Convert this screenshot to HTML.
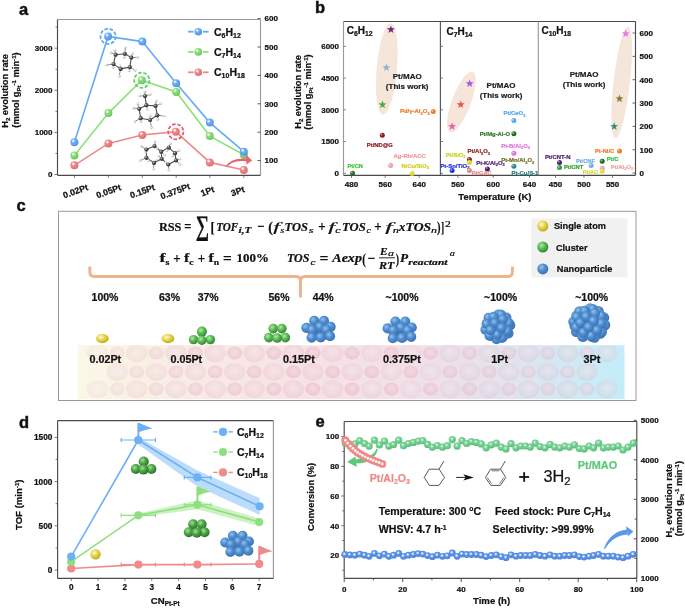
<!DOCTYPE html>
<html><head><meta charset="utf-8"><title>Figure</title>
<style>html,body{margin:0;padding:0;background:#fff;}svg{display:block;will-change:transform;}</style></head>
<body><svg width="685" height="608" viewBox="0 0 685 608">
<defs><radialGradient id="gC" cx="0.38" cy="0.35" r="0.7"><stop offset="0" stop-color="#c8c8c8"/><stop offset="0.45" stop-color="#505050"/><stop offset="1" stop-color="#1c1c1c"/></radialGradient><radialGradient id="gH" cx="0.38" cy="0.35" r="0.7"><stop offset="0" stop-color="#ffffff"/><stop offset="0.45" stop-color="#dedede"/><stop offset="1" stop-color="#9a9a9a"/></radialGradient><radialGradient id="gB" cx="0.36" cy="0.33" r="0.72"><stop offset="0" stop-color="#ffffff"/><stop offset="0.14" stop-color="#cfe6ff"/><stop offset="0.32" stop-color="#70b0f6"/><stop offset="1" stop-color="#4e92e2"/></radialGradient><radialGradient id="gG" cx="0.36" cy="0.33" r="0.72"><stop offset="0" stop-color="#ffffff"/><stop offset="0.14" stop-color="#d8f8d0"/><stop offset="0.32" stop-color="#90e07e"/><stop offset="1" stop-color="#66c458"/></radialGradient><radialGradient id="gR" cx="0.36" cy="0.33" r="0.72"><stop offset="0" stop-color="#ffffff"/><stop offset="0.14" stop-color="#ffe0e0"/><stop offset="0.32" stop-color="#ee8c8c"/><stop offset="1" stop-color="#da6c6c"/></radialGradient><radialGradient id="gY" cx="0.38" cy="0.35" r="0.7"><stop offset="0" stop-color="#fffbd8"/><stop offset="0.45" stop-color="#e6d648"/><stop offset="1" stop-color="#bba520"/></radialGradient><radialGradient id="gCG" cx="0.38" cy="0.35" r="0.7"><stop offset="0" stop-color="#b0eca0"/><stop offset="0.45" stop-color="#5cbc58"/><stop offset="1" stop-color="#2e7e2c"/></radialGradient><radialGradient id="gCGd" cx="0.38" cy="0.35" r="0.7"><stop offset="0" stop-color="#a4e094"/><stop offset="0.45" stop-color="#4ea64a"/><stop offset="1" stop-color="#266c24"/></radialGradient><radialGradient id="gCB" cx="0.38" cy="0.35" r="0.7"><stop offset="0" stop-color="#92c2ee"/><stop offset="0.45" stop-color="#4f8ed0"/><stop offset="1" stop-color="#3a6eb2"/></radialGradient></defs>
<text x="19.00" y="14.50" font-size="16.5" font-weight="bold" text-anchor="start" fill="#111" font-family="'Liberation Sans',sans-serif" stroke="#111" stroke-width="0.45">a</text>
<text x="315.00" y="13.00" font-size="16.5" font-weight="bold" text-anchor="start" fill="#111" font-family="'Liberation Sans',sans-serif" stroke="#111" stroke-width="0.45">b</text>
<text x="16.50" y="210.50" font-size="16.5" font-weight="bold" text-anchor="start" fill="#111" font-family="'Liberation Sans',sans-serif" stroke="#111" stroke-width="0.45">c</text>
<text x="19.00" y="428.00" font-size="16.5" font-weight="bold" text-anchor="start" fill="#111" font-family="'Liberation Sans',sans-serif" stroke="#111" stroke-width="0.45">d</text>
<text x="315.50" y="426.50" font-size="16.5" font-weight="bold" text-anchor="start" fill="#111" font-family="'Liberation Sans',sans-serif" stroke="#111" stroke-width="0.45">e</text>
<line x1="57.50" y1="19.50" x2="260.50" y2="19.50" stroke="#9a9a9a" stroke-width="1.15" />
<line x1="260.50" y1="19.50" x2="260.50" y2="175.30" stroke="#9a9a9a" stroke-width="1.15" />
<line x1="57.50" y1="19.50" x2="57.50" y2="175.30" stroke="#4a4a4a" stroke-width="1.15" />
<line x1="57.50" y1="175.30" x2="260.50" y2="175.30" stroke="#4a4a4a" stroke-width="1.15" />
<line x1="57.50" y1="174.50" x2="54.50" y2="174.50" stroke="#555" stroke-width="0.8" />
<text x="52.50" y="177.30" font-size="8" font-weight="bold" text-anchor="end" fill="#111" font-family="'Liberation Sans',sans-serif"  stroke="#111" stroke-width="0.22">0</text>
<line x1="57.50" y1="153.45" x2="55.50" y2="153.45" stroke="#555" stroke-width="0.8" />
<line x1="57.50" y1="132.40" x2="54.50" y2="132.40" stroke="#555" stroke-width="0.8" />
<text x="52.50" y="135.20" font-size="8" font-weight="bold" text-anchor="end" fill="#111" font-family="'Liberation Sans',sans-serif"  stroke="#111" stroke-width="0.22">1000</text>
<line x1="57.50" y1="111.35" x2="55.50" y2="111.35" stroke="#555" stroke-width="0.8" />
<line x1="57.50" y1="90.30" x2="54.50" y2="90.30" stroke="#555" stroke-width="0.8" />
<text x="52.50" y="93.10" font-size="8" font-weight="bold" text-anchor="end" fill="#111" font-family="'Liberation Sans',sans-serif"  stroke="#111" stroke-width="0.22">2000</text>
<line x1="57.50" y1="69.25" x2="55.50" y2="69.25" stroke="#555" stroke-width="0.8" />
<line x1="57.50" y1="48.20" x2="54.50" y2="48.20" stroke="#555" stroke-width="0.8" />
<text x="52.50" y="51.00" font-size="8" font-weight="bold" text-anchor="end" fill="#111" font-family="'Liberation Sans',sans-serif"  stroke="#111" stroke-width="0.22">3000</text>
<line x1="57.50" y1="27.15" x2="55.50" y2="27.15" stroke="#555" stroke-width="0.8" />
<line x1="260.50" y1="160.60" x2="257.50" y2="160.60" stroke="#444" stroke-width="0.9" />
<text x="264.50" y="163.40" font-size="8" font-weight="bold" text-anchor="start" fill="#111" font-family="'Liberation Sans',sans-serif"  stroke="#111" stroke-width="0.22">100</text>
<line x1="260.50" y1="132.20" x2="257.50" y2="132.20" stroke="#444" stroke-width="0.9" />
<text x="264.50" y="135.00" font-size="8" font-weight="bold" text-anchor="start" fill="#111" font-family="'Liberation Sans',sans-serif"  stroke="#111" stroke-width="0.22">200</text>
<line x1="260.50" y1="103.80" x2="257.50" y2="103.80" stroke="#444" stroke-width="0.9" />
<text x="264.50" y="106.60" font-size="8" font-weight="bold" text-anchor="start" fill="#111" font-family="'Liberation Sans',sans-serif"  stroke="#111" stroke-width="0.22">300</text>
<line x1="260.50" y1="75.40" x2="257.50" y2="75.40" stroke="#444" stroke-width="0.9" />
<text x="264.50" y="78.20" font-size="8" font-weight="bold" text-anchor="start" fill="#111" font-family="'Liberation Sans',sans-serif"  stroke="#111" stroke-width="0.22">400</text>
<line x1="260.50" y1="47.00" x2="257.50" y2="47.00" stroke="#444" stroke-width="0.9" />
<text x="264.50" y="49.80" font-size="8" font-weight="bold" text-anchor="start" fill="#111" font-family="'Liberation Sans',sans-serif"  stroke="#111" stroke-width="0.22">500</text>
<line x1="260.50" y1="18.60" x2="257.50" y2="18.60" stroke="#444" stroke-width="0.9" />
<text x="264.50" y="21.40" font-size="8" font-weight="bold" text-anchor="start" fill="#111" font-family="'Liberation Sans',sans-serif"  stroke="#111" stroke-width="0.22">600</text>
<line x1="74.40" y1="175.30" x2="74.40" y2="177.80" stroke="#555" stroke-width="0.8" />
<line x1="108.30" y1="175.30" x2="108.30" y2="177.80" stroke="#555" stroke-width="0.8" />
<line x1="142.30" y1="175.30" x2="142.30" y2="177.80" stroke="#555" stroke-width="0.8" />
<line x1="176.20" y1="175.30" x2="176.20" y2="177.80" stroke="#555" stroke-width="0.8" />
<line x1="209.80" y1="175.30" x2="209.80" y2="177.80" stroke="#555" stroke-width="0.8" />
<line x1="243.80" y1="175.30" x2="243.80" y2="177.80" stroke="#555" stroke-width="0.8" />
<text transform="translate(75.5,191.3) rotate(-20)" x="0" y="3" font-size="8.8" font-weight="bold" text-anchor="middle" fill="#111" font-family="'Liberation Sans',sans-serif" stroke="#111" stroke-width="0.22">0.02Pt</text>
<text transform="translate(108.6,191.3) rotate(-20)" x="0" y="3" font-size="8.8" font-weight="bold" text-anchor="middle" fill="#111" font-family="'Liberation Sans',sans-serif" stroke="#111" stroke-width="0.22">0.05Pt</text>
<text transform="translate(142.4,191.3) rotate(-20)" x="0" y="3" font-size="8.8" font-weight="bold" text-anchor="middle" fill="#111" font-family="'Liberation Sans',sans-serif" stroke="#111" stroke-width="0.22">0.15Pt</text>
<text transform="translate(175.3,191.3) rotate(-20)" x="0" y="3" font-size="8.8" font-weight="bold" text-anchor="middle" fill="#111" font-family="'Liberation Sans',sans-serif" stroke="#111" stroke-width="0.22">0.375Pt</text>
<text transform="translate(207.5,191.3) rotate(-20)" x="0" y="3" font-size="8.8" font-weight="bold" text-anchor="middle" fill="#111" font-family="'Liberation Sans',sans-serif" stroke="#111" stroke-width="0.22">1Pt</text>
<text transform="translate(237.7,191.3) rotate(-20)" x="0" y="3" font-size="8.8" font-weight="bold" text-anchor="middle" fill="#111" font-family="'Liberation Sans',sans-serif" stroke="#111" stroke-width="0.22">3Pt</text>
<text transform="translate(7.7,91) rotate(-90)" x="0" y="0" font-size="9.3" font-weight="bold" text-anchor="middle" fill="#111" font-family="'Liberation Sans',sans-serif" stroke="#111" stroke-width="0.22">H<tspan font-size="6.1" dy="2">2</tspan><tspan dy="-2"> evolution rate</tspan></text>
<text transform="translate(18.7,90) rotate(-90)" x="0" y="0" font-size="9.3" font-weight="bold" text-anchor="middle" fill="#111" font-family="'Liberation Sans',sans-serif" stroke="#111" stroke-width="0.22">(mmol g<tspan font-size="6.1" dy="2">Pt</tspan><tspan font-size="6.1" dy="-5">-1</tspan><tspan dy="3"> min</tspan><tspan font-size="6.1" dy="-3">-1</tspan><tspan dy="3">)</tspan></text>
<line x1="115.60" y1="54.70" x2="124.80" y2="53.80" stroke="#505050" stroke-width="1.1" />
<line x1="124.80" y1="53.80" x2="131.30" y2="57.60" stroke="#505050" stroke-width="1.1" />
<line x1="131.30" y1="57.60" x2="129.80" y2="67.10" stroke="#505050" stroke-width="1.1" />
<line x1="129.80" y1="67.10" x2="120.60" y2="68.90" stroke="#505050" stroke-width="1.1" />
<line x1="120.60" y1="68.90" x2="113.50" y2="64.10" stroke="#505050" stroke-width="1.1" />
<line x1="113.50" y1="64.10" x2="115.60" y2="54.70" stroke="#505050" stroke-width="1.1" />
<line x1="115.60" y1="54.70" x2="110.90" y2="52.60" stroke="#777" stroke-width="0.8" />
<line x1="115.60" y1="54.70" x2="114.70" y2="50.30" stroke="#777" stroke-width="0.8" />
<line x1="124.80" y1="53.80" x2="125.40" y2="47.60" stroke="#777" stroke-width="0.8" />
<line x1="124.80" y1="53.80" x2="124.20" y2="57.20" stroke="#777" stroke-width="0.8" />
<line x1="131.30" y1="57.60" x2="132.40" y2="53.60" stroke="#777" stroke-width="0.8" />
<line x1="131.30" y1="57.60" x2="137.50" y2="57.30" stroke="#777" stroke-width="0.8" />
<line x1="129.80" y1="67.10" x2="135.10" y2="70.30" stroke="#777" stroke-width="0.8" />
<line x1="129.80" y1="67.10" x2="129.20" y2="70.80" stroke="#777" stroke-width="0.8" />
<line x1="120.60" y1="68.90" x2="119.20" y2="76.20" stroke="#777" stroke-width="0.8" />
<line x1="120.60" y1="68.90" x2="119.80" y2="65.90" stroke="#777" stroke-width="0.8" />
<line x1="113.50" y1="64.10" x2="106.40" y2="65.00" stroke="#777" stroke-width="0.8" />
<line x1="113.50" y1="64.10" x2="113.20" y2="67.60" stroke="#777" stroke-width="0.8" />
<circle cx="110.9" cy="52.6" r="1.35" fill="url(#gH)"/>
<circle cx="114.7" cy="50.3" r="1.35" fill="url(#gH)"/>
<circle cx="125.4" cy="47.6" r="1.35" fill="url(#gH)"/>
<circle cx="124.2" cy="57.2" r="1.35" fill="url(#gH)"/>
<circle cx="132.4" cy="53.6" r="1.35" fill="url(#gH)"/>
<circle cx="137.5" cy="57.3" r="1.35" fill="url(#gH)"/>
<circle cx="135.1" cy="70.3" r="1.35" fill="url(#gH)"/>
<circle cx="129.2" cy="70.8" r="1.35" fill="url(#gH)"/>
<circle cx="119.2" cy="76.2" r="1.35" fill="url(#gH)"/>
<circle cx="119.8" cy="65.9" r="1.35" fill="url(#gH)"/>
<circle cx="106.4" cy="65.0" r="1.35" fill="url(#gH)"/>
<circle cx="113.2" cy="67.6" r="1.35" fill="url(#gH)"/>
<circle cx="115.6" cy="54.7" r="2.1" fill="url(#gC)"/>
<circle cx="124.8" cy="53.8" r="2.1" fill="url(#gC)"/>
<circle cx="131.3" cy="57.6" r="2.1" fill="url(#gC)"/>
<circle cx="129.8" cy="67.1" r="2.1" fill="url(#gC)"/>
<circle cx="120.6" cy="68.9" r="2.1" fill="url(#gC)"/>
<circle cx="113.5" cy="64.1" r="2.1" fill="url(#gC)"/>
<line x1="146.40" y1="105.20" x2="155.50" y2="105.90" stroke="#505050" stroke-width="1.1" />
<line x1="155.50" y1="105.90" x2="157.30" y2="115.30" stroke="#505050" stroke-width="1.1" />
<line x1="157.30" y1="115.30" x2="150.10" y2="120.00" stroke="#505050" stroke-width="1.1" />
<line x1="150.10" y1="120.00" x2="140.70" y2="118.20" stroke="#505050" stroke-width="1.1" />
<line x1="140.70" y1="118.20" x2="139.20" y2="108.80" stroke="#505050" stroke-width="1.1" />
<line x1="139.20" y1="108.80" x2="146.40" y2="105.20" stroke="#505050" stroke-width="1.1" />
<line x1="146.40" y1="105.20" x2="145.00" y2="96.10" stroke="#505050" stroke-width="1.1" />
<line x1="145.00" y1="96.10" x2="145.00" y2="91.40" stroke="#777" stroke-width="0.8" />
<line x1="145.00" y1="96.10" x2="139.60" y2="95.80" stroke="#777" stroke-width="0.8" />
<line x1="145.00" y1="96.10" x2="150.10" y2="94.50" stroke="#777" stroke-width="0.8" />
<line x1="146.40" y1="105.20" x2="147.00" y2="109.10" stroke="#777" stroke-width="0.8" />
<line x1="155.50" y1="105.90" x2="156.20" y2="100.80" stroke="#777" stroke-width="0.8" />
<line x1="155.50" y1="105.90" x2="160.50" y2="103.70" stroke="#777" stroke-width="0.8" />
<line x1="157.30" y1="115.30" x2="164.20" y2="116.00" stroke="#777" stroke-width="0.8" />
<line x1="157.30" y1="115.30" x2="157.70" y2="119.30" stroke="#777" stroke-width="0.8" />
<line x1="150.10" y1="120.00" x2="151.50" y2="127.60" stroke="#777" stroke-width="0.8" />
<line x1="150.10" y1="120.00" x2="150.10" y2="115.70" stroke="#777" stroke-width="0.8" />
<line x1="140.70" y1="118.20" x2="134.90" y2="121.40" stroke="#777" stroke-width="0.8" />
<line x1="140.70" y1="118.20" x2="141.00" y2="121.80" stroke="#777" stroke-width="0.8" />
<line x1="139.20" y1="108.80" x2="133.40" y2="108.10" stroke="#777" stroke-width="0.8" />
<line x1="139.20" y1="108.80" x2="137.80" y2="103.70" stroke="#777" stroke-width="0.8" />
<circle cx="145.0" cy="91.4" r="1.35" fill="url(#gH)"/>
<circle cx="139.6" cy="95.8" r="1.35" fill="url(#gH)"/>
<circle cx="150.1" cy="94.5" r="1.35" fill="url(#gH)"/>
<circle cx="147.0" cy="109.1" r="1.35" fill="url(#gH)"/>
<circle cx="156.2" cy="100.8" r="1.35" fill="url(#gH)"/>
<circle cx="160.5" cy="103.7" r="1.35" fill="url(#gH)"/>
<circle cx="164.2" cy="116.0" r="1.35" fill="url(#gH)"/>
<circle cx="157.7" cy="119.3" r="1.35" fill="url(#gH)"/>
<circle cx="151.5" cy="127.6" r="1.35" fill="url(#gH)"/>
<circle cx="150.1" cy="115.7" r="1.35" fill="url(#gH)"/>
<circle cx="134.9" cy="121.4" r="1.35" fill="url(#gH)"/>
<circle cx="141.0" cy="121.8" r="1.35" fill="url(#gH)"/>
<circle cx="133.4" cy="108.1" r="1.35" fill="url(#gH)"/>
<circle cx="137.8" cy="103.7" r="1.35" fill="url(#gH)"/>
<circle cx="146.4" cy="105.2" r="2.1" fill="url(#gC)"/>
<circle cx="155.5" cy="105.9" r="2.1" fill="url(#gC)"/>
<circle cx="157.3" cy="115.3" r="2.1" fill="url(#gC)"/>
<circle cx="150.1" cy="120.0" r="2.1" fill="url(#gC)"/>
<circle cx="140.7" cy="118.2" r="2.1" fill="url(#gC)"/>
<circle cx="139.2" cy="108.8" r="2.1" fill="url(#gC)"/>
<circle cx="145.0" cy="96.1" r="2.1" fill="url(#gC)"/>
<line x1="146.40" y1="149.60" x2="154.50" y2="146.10" stroke="#505050" stroke-width="1.1" />
<line x1="154.50" y1="146.10" x2="161.20" y2="151.70" stroke="#505050" stroke-width="1.1" />
<line x1="161.20" y1="151.70" x2="161.70" y2="158.80" stroke="#505050" stroke-width="1.1" />
<line x1="161.70" y1="158.80" x2="154.00" y2="162.90" stroke="#505050" stroke-width="1.1" />
<line x1="154.00" y1="162.90" x2="146.40" y2="157.80" stroke="#505050" stroke-width="1.1" />
<line x1="146.40" y1="157.80" x2="146.40" y2="149.60" stroke="#505050" stroke-width="1.1" />
<line x1="161.20" y1="151.70" x2="168.80" y2="147.60" stroke="#505050" stroke-width="1.1" />
<line x1="168.80" y1="147.60" x2="175.00" y2="153.20" stroke="#505050" stroke-width="1.1" />
<line x1="175.00" y1="153.20" x2="176.00" y2="160.40" stroke="#505050" stroke-width="1.1" />
<line x1="176.00" y1="160.40" x2="168.30" y2="164.50" stroke="#505050" stroke-width="1.1" />
<line x1="168.30" y1="164.50" x2="161.70" y2="158.80" stroke="#505050" stroke-width="1.1" />
<line x1="146.40" y1="149.60" x2="141.20" y2="146.10" stroke="#777" stroke-width="0.8" />
<line x1="146.40" y1="149.60" x2="145.80" y2="152.00" stroke="#777" stroke-width="0.8" />
<line x1="154.50" y1="146.10" x2="155.00" y2="141.60" stroke="#777" stroke-width="0.8" />
<line x1="154.50" y1="146.10" x2="157.00" y2="148.50" stroke="#777" stroke-width="0.8" />
<line x1="161.20" y1="151.70" x2="164.50" y2="155.00" stroke="#777" stroke-width="0.8" />
<line x1="161.70" y1="158.80" x2="158.50" y2="156.00" stroke="#777" stroke-width="0.8" />
<line x1="154.00" y1="162.90" x2="153.50" y2="169.00" stroke="#777" stroke-width="0.8" />
<line x1="154.00" y1="162.90" x2="156.50" y2="160.00" stroke="#777" stroke-width="0.8" />
<line x1="146.40" y1="157.80" x2="140.20" y2="160.40" stroke="#777" stroke-width="0.8" />
<line x1="146.40" y1="157.80" x2="148.50" y2="160.50" stroke="#777" stroke-width="0.8" />
<line x1="168.80" y1="147.60" x2="170.40" y2="143.60" stroke="#777" stroke-width="0.8" />
<line x1="168.80" y1="147.60" x2="167.00" y2="150.50" stroke="#777" stroke-width="0.8" />
<line x1="175.00" y1="153.20" x2="179.00" y2="150.70" stroke="#777" stroke-width="0.8" />
<line x1="175.00" y1="153.20" x2="172.50" y2="156.00" stroke="#777" stroke-width="0.8" />
<line x1="176.00" y1="160.40" x2="180.00" y2="158.80" stroke="#777" stroke-width="0.8" />
<line x1="176.00" y1="160.40" x2="180.00" y2="164.50" stroke="#777" stroke-width="0.8" />
<line x1="168.30" y1="164.50" x2="168.80" y2="170.10" stroke="#777" stroke-width="0.8" />
<line x1="168.30" y1="164.50" x2="166.00" y2="162.00" stroke="#777" stroke-width="0.8" />
<circle cx="141.2" cy="146.1" r="1.35" fill="url(#gH)"/>
<circle cx="145.8" cy="152.0" r="1.35" fill="url(#gH)"/>
<circle cx="155.0" cy="141.6" r="1.35" fill="url(#gH)"/>
<circle cx="157.0" cy="148.5" r="1.35" fill="url(#gH)"/>
<circle cx="164.5" cy="155.0" r="1.35" fill="url(#gH)"/>
<circle cx="158.5" cy="156.0" r="1.35" fill="url(#gH)"/>
<circle cx="153.5" cy="169.0" r="1.35" fill="url(#gH)"/>
<circle cx="156.5" cy="160.0" r="1.35" fill="url(#gH)"/>
<circle cx="140.2" cy="160.4" r="1.35" fill="url(#gH)"/>
<circle cx="148.5" cy="160.5" r="1.35" fill="url(#gH)"/>
<circle cx="170.4" cy="143.6" r="1.35" fill="url(#gH)"/>
<circle cx="167.0" cy="150.5" r="1.35" fill="url(#gH)"/>
<circle cx="179.0" cy="150.7" r="1.35" fill="url(#gH)"/>
<circle cx="172.5" cy="156.0" r="1.35" fill="url(#gH)"/>
<circle cx="180.0" cy="158.8" r="1.35" fill="url(#gH)"/>
<circle cx="180.0" cy="164.5" r="1.35" fill="url(#gH)"/>
<circle cx="168.8" cy="170.1" r="1.35" fill="url(#gH)"/>
<circle cx="166.0" cy="162.0" r="1.35" fill="url(#gH)"/>
<circle cx="146.4" cy="149.6" r="2.1" fill="url(#gC)"/>
<circle cx="154.5" cy="146.1" r="2.1" fill="url(#gC)"/>
<circle cx="161.2" cy="151.7" r="2.1" fill="url(#gC)"/>
<circle cx="161.7" cy="158.8" r="2.1" fill="url(#gC)"/>
<circle cx="154.0" cy="162.9" r="2.1" fill="url(#gC)"/>
<circle cx="146.4" cy="157.8" r="2.1" fill="url(#gC)"/>
<circle cx="168.8" cy="147.6" r="2.1" fill="url(#gC)"/>
<circle cx="175.0" cy="153.2" r="2.1" fill="url(#gC)"/>
<circle cx="176.0" cy="160.4" r="2.1" fill="url(#gC)"/>
<circle cx="168.3" cy="164.5" r="2.1" fill="url(#gC)"/>
<path d="M74.4,165.3 L108.4,143.4 L142.3,135.0 L175.8,131.7 L209.8,162.4 L243.8,170.0" fill="none" stroke="#ec8a8a" stroke-width="1.6"/>
<path d="M74.4,155.4 L108.4,113.1 L141.8,80.2 L176.2,92.0 L209.8,136.1 L243.8,154.7" fill="none" stroke="#8ee07a" stroke-width="1.6"/>
<path d="M74.4,142.3 L108.1,36.4 L142.3,41.6 L176.2,83.2 L209.8,122.6 L243.8,151.7" fill="none" stroke="#66aaf5" stroke-width="1.6"/>
<circle cx="74.40" cy="165.30" r="4.0" fill="url(#gR)"/>
<circle cx="108.40" cy="143.40" r="4.0" fill="url(#gR)"/>
<circle cx="142.30" cy="135.00" r="4.0" fill="url(#gR)"/>
<circle cx="175.80" cy="131.70" r="4.0" fill="url(#gR)"/>
<circle cx="209.80" cy="162.40" r="4.0" fill="url(#gR)"/>
<circle cx="243.80" cy="170.00" r="4.0" fill="url(#gR)"/>
<circle cx="74.40" cy="155.40" r="4.0" fill="url(#gG)"/>
<circle cx="108.40" cy="113.10" r="4.0" fill="url(#gG)"/>
<circle cx="141.80" cy="80.20" r="4.0" fill="url(#gG)"/>
<circle cx="176.20" cy="92.00" r="4.0" fill="url(#gG)"/>
<circle cx="209.80" cy="136.10" r="4.0" fill="url(#gG)"/>
<circle cx="243.80" cy="154.70" r="4.0" fill="url(#gG)"/>
<circle cx="74.40" cy="142.30" r="4.0" fill="url(#gB)"/>
<circle cx="108.10" cy="36.40" r="4.0" fill="url(#gB)"/>
<circle cx="142.30" cy="41.60" r="4.0" fill="url(#gB)"/>
<circle cx="176.20" cy="83.20" r="4.0" fill="url(#gB)"/>
<circle cx="209.80" cy="122.60" r="4.0" fill="url(#gB)"/>
<circle cx="243.80" cy="151.70" r="4.0" fill="url(#gB)"/>
<circle cx="108.1" cy="36.4" r="7.6" fill="none" stroke="#58a6f4" stroke-width="1.7" stroke-dasharray="3.6 1.7"/>
<circle cx="141.8" cy="80.2" r="7.6" fill="none" stroke="#58d06c" stroke-width="1.7" stroke-dasharray="3.6 1.7"/>
<circle cx="175.8" cy="131.7" r="7.6" fill="none" stroke="#e8566a" stroke-width="1.7" stroke-dasharray="3.6 1.7"/>
<path d="M225.8,166.2 Q231.5,157.2 247,158.6 L247,161.2 Q233,160.2 227.4,166.4 Z" fill="#e8646e"/>
<path d="M252.2,160.6 L246.0,154.8 L246.4,164.6 Z" fill="#e8646e"/>
<line x1="188.00" y1="31.70" x2="193.60" y2="31.70" stroke="#66aaf5" stroke-width="1.8" />
<line x1="203.00" y1="31.70" x2="208.60" y2="31.70" stroke="#66aaf5" stroke-width="1.8" />
<circle cx="198.30" cy="31.70" r="3.8" fill="url(#gB)"/>
<text x="214.00" y="35.50" font-size="10.5" font-weight="bold" text-anchor="start" fill="#111" font-family="'Liberation Sans',sans-serif"  stroke="#111" stroke-width="0.22">C<tspan font-size="7" dy="2">6</tspan><tspan dy="-2">H</tspan><tspan font-size="7" dy="2">12</tspan></text>
<line x1="188.00" y1="51.90" x2="193.60" y2="51.90" stroke="#8ee07a" stroke-width="1.8" />
<line x1="203.00" y1="51.90" x2="208.60" y2="51.90" stroke="#8ee07a" stroke-width="1.8" />
<circle cx="198.30" cy="51.90" r="3.8" fill="url(#gG)"/>
<text x="214.00" y="55.70" font-size="10.5" font-weight="bold" text-anchor="start" fill="#111" font-family="'Liberation Sans',sans-serif"  stroke="#111" stroke-width="0.22">C<tspan font-size="7" dy="2">7</tspan><tspan dy="-2">H</tspan><tspan font-size="7" dy="2">14</tspan></text>
<line x1="188.00" y1="72.30" x2="193.60" y2="72.30" stroke="#ec8a8a" stroke-width="1.8" />
<line x1="203.00" y1="72.30" x2="208.60" y2="72.30" stroke="#ec8a8a" stroke-width="1.8" />
<circle cx="198.30" cy="72.30" r="3.8" fill="url(#gR)"/>
<text x="214.00" y="76.10" font-size="10.5" font-weight="bold" text-anchor="start" fill="#111" font-family="'Liberation Sans',sans-serif"  stroke="#111" stroke-width="0.22">C<tspan font-size="7" dy="2">10</tspan><tspan dy="-2">H</tspan><tspan font-size="7" dy="2">18</tspan></text>
<ellipse cx="386.8" cy="69.0" rx="10.2" ry="45.8" transform="rotate(5 386.8 69.0)" fill="#f6e6da"/>
<ellipse cx="461.4" cy="102.0" rx="9.5" ry="32.2" transform="rotate(20.5 461.4 102.0)" fill="#f6e6da"/>
<ellipse cx="621.7" cy="82.5" rx="8.2" ry="56.2" transform="rotate(6.5 621.7 82.5)" fill="#f6e6da"/>
<line x1="343.50" y1="21.50" x2="635.50" y2="21.50" stroke="#4a4a4a" stroke-width="1.15" />
<line x1="635.50" y1="21.50" x2="635.50" y2="175.30" stroke="#4a4a4a" stroke-width="1.15" />
<line x1="343.50" y1="21.50" x2="343.50" y2="175.30" stroke="#9a9a9a" stroke-width="1.15" />
<line x1="343.50" y1="175.30" x2="635.50" y2="175.30" stroke="#4a4a4a" stroke-width="1.15" />
<line x1="440.40" y1="21.50" x2="440.40" y2="175.30" stroke="#555" stroke-width="1.15" />
<line x1="538.30" y1="21.50" x2="538.30" y2="175.30" stroke="#9a9a9a" stroke-width="1.15" />
<line x1="343.50" y1="173.30" x2="346.00" y2="173.30" stroke="#777" stroke-width="0.9" />
<text x="339.00" y="176.10" font-size="8" font-weight="bold" text-anchor="end" fill="#111" font-family="'Liberation Sans',sans-serif"  stroke="#111" stroke-width="0.22">0</text>
<line x1="440.40" y1="173.30" x2="442.90" y2="173.30" stroke="#666" stroke-width="0.9" />
<line x1="343.50" y1="141.55" x2="346.00" y2="141.55" stroke="#777" stroke-width="0.9" />
<text x="339.00" y="144.35" font-size="8" font-weight="bold" text-anchor="end" fill="#111" font-family="'Liberation Sans',sans-serif"  stroke="#111" stroke-width="0.22">1500</text>
<line x1="440.40" y1="141.55" x2="442.90" y2="141.55" stroke="#666" stroke-width="0.9" />
<line x1="343.50" y1="109.80" x2="346.00" y2="109.80" stroke="#777" stroke-width="0.9" />
<text x="339.00" y="112.60" font-size="8" font-weight="bold" text-anchor="end" fill="#111" font-family="'Liberation Sans',sans-serif"  stroke="#111" stroke-width="0.22">3000</text>
<line x1="440.40" y1="109.80" x2="442.90" y2="109.80" stroke="#666" stroke-width="0.9" />
<line x1="343.50" y1="78.05" x2="346.00" y2="78.05" stroke="#777" stroke-width="0.9" />
<text x="339.00" y="80.85" font-size="8" font-weight="bold" text-anchor="end" fill="#111" font-family="'Liberation Sans',sans-serif"  stroke="#111" stroke-width="0.22">4500</text>
<line x1="440.40" y1="78.05" x2="442.90" y2="78.05" stroke="#666" stroke-width="0.9" />
<line x1="343.50" y1="46.30" x2="346.00" y2="46.30" stroke="#777" stroke-width="0.9" />
<text x="339.00" y="49.10" font-size="8" font-weight="bold" text-anchor="end" fill="#111" font-family="'Liberation Sans',sans-serif"  stroke="#111" stroke-width="0.22">6000</text>
<line x1="440.40" y1="46.30" x2="442.90" y2="46.30" stroke="#666" stroke-width="0.9" />
<line x1="635.50" y1="173.10" x2="632.50" y2="173.10" stroke="#555" stroke-width="0.9" />
<text x="639.50" y="175.90" font-size="8" font-weight="bold" text-anchor="start" fill="#111" font-family="'Liberation Sans',sans-serif"  stroke="#111" stroke-width="0.22">0</text>
<line x1="635.50" y1="149.75" x2="632.50" y2="149.75" stroke="#555" stroke-width="0.9" />
<text x="639.50" y="152.55" font-size="8" font-weight="bold" text-anchor="start" fill="#111" font-family="'Liberation Sans',sans-serif"  stroke="#111" stroke-width="0.22">100</text>
<line x1="635.50" y1="126.40" x2="632.50" y2="126.40" stroke="#555" stroke-width="0.9" />
<text x="639.50" y="129.20" font-size="8" font-weight="bold" text-anchor="start" fill="#111" font-family="'Liberation Sans',sans-serif"  stroke="#111" stroke-width="0.22">200</text>
<line x1="635.50" y1="103.05" x2="632.50" y2="103.05" stroke="#555" stroke-width="0.9" />
<text x="639.50" y="105.85" font-size="8" font-weight="bold" text-anchor="start" fill="#111" font-family="'Liberation Sans',sans-serif"  stroke="#111" stroke-width="0.22">300</text>
<line x1="635.50" y1="79.70" x2="632.50" y2="79.70" stroke="#555" stroke-width="0.9" />
<text x="639.50" y="82.50" font-size="8" font-weight="bold" text-anchor="start" fill="#111" font-family="'Liberation Sans',sans-serif"  stroke="#111" stroke-width="0.22">400</text>
<line x1="635.50" y1="56.35" x2="632.50" y2="56.35" stroke="#555" stroke-width="0.9" />
<text x="639.50" y="59.15" font-size="8" font-weight="bold" text-anchor="start" fill="#111" font-family="'Liberation Sans',sans-serif"  stroke="#111" stroke-width="0.22">500</text>
<line x1="635.50" y1="33.00" x2="632.50" y2="33.00" stroke="#555" stroke-width="0.9" />
<text x="639.50" y="35.80" font-size="8" font-weight="bold" text-anchor="start" fill="#111" font-family="'Liberation Sans',sans-serif"  stroke="#111" stroke-width="0.22">600</text>
<line x1="351.50" y1="175.30" x2="351.50" y2="177.80" stroke="#555" stroke-width="0.8" />
<text x="351.50" y="187.00" font-size="8" font-weight="bold" text-anchor="middle" fill="#111" font-family="'Liberation Sans',sans-serif"  stroke="#111" stroke-width="0.22">480</text>
<line x1="385.20" y1="175.30" x2="385.20" y2="177.80" stroke="#555" stroke-width="0.8" />
<text x="385.20" y="187.00" font-size="8" font-weight="bold" text-anchor="middle" fill="#111" font-family="'Liberation Sans',sans-serif"  stroke="#111" stroke-width="0.22">560</text>
<line x1="419.20" y1="175.30" x2="419.20" y2="177.80" stroke="#555" stroke-width="0.8" />
<text x="419.20" y="187.00" font-size="8" font-weight="bold" text-anchor="middle" fill="#111" font-family="'Liberation Sans',sans-serif"  stroke="#111" stroke-width="0.22">640</text>
<line x1="457.90" y1="175.30" x2="457.90" y2="177.80" stroke="#555" stroke-width="0.8" />
<text x="457.90" y="187.00" font-size="8" font-weight="bold" text-anchor="middle" fill="#111" font-family="'Liberation Sans',sans-serif"  stroke="#111" stroke-width="0.22">560</text>
<line x1="493.20" y1="175.30" x2="493.20" y2="177.80" stroke="#555" stroke-width="0.8" />
<text x="493.20" y="187.00" font-size="8" font-weight="bold" text-anchor="middle" fill="#111" font-family="'Liberation Sans',sans-serif"  stroke="#111" stroke-width="0.22">600</text>
<line x1="529.50" y1="175.30" x2="529.50" y2="177.80" stroke="#555" stroke-width="0.8" />
<text x="529.50" y="187.00" font-size="8" font-weight="bold" text-anchor="middle" fill="#111" font-family="'Liberation Sans',sans-serif"  stroke="#111" stroke-width="0.22">640</text>
<line x1="555.50" y1="175.30" x2="555.50" y2="177.80" stroke="#555" stroke-width="0.8" />
<text x="555.50" y="187.00" font-size="8" font-weight="bold" text-anchor="middle" fill="#111" font-family="'Liberation Sans',sans-serif"  stroke="#111" stroke-width="0.22">450</text>
<line x1="584.00" y1="175.30" x2="584.00" y2="177.80" stroke="#555" stroke-width="0.8" />
<text x="584.00" y="187.00" font-size="8" font-weight="bold" text-anchor="middle" fill="#111" font-family="'Liberation Sans',sans-serif"  stroke="#111" stroke-width="0.22">500</text>
<line x1="612.60" y1="175.30" x2="612.60" y2="177.80" stroke="#555" stroke-width="0.8" />
<text x="612.60" y="187.00" font-size="8" font-weight="bold" text-anchor="middle" fill="#111" font-family="'Liberation Sans',sans-serif"  stroke="#111" stroke-width="0.22">550</text>
<text x="458.30" y="199.60" font-size="9.5" font-weight="bold" text-anchor="start" fill="#111" font-family="'Liberation Sans',sans-serif"  stroke="#111" stroke-width="0.22">Temperature</text>
<text x="518.30" y="199.60" font-size="9.5" font-weight="bold" text-anchor="start" fill="#111" font-family="'Liberation Sans',sans-serif"  stroke="#111" stroke-width="0.22">(K)</text>
<text transform="translate(301.2,92) rotate(-90)" x="0" y="0" font-size="9.3" font-weight="bold" text-anchor="middle" fill="#111" font-family="'Liberation Sans',sans-serif" stroke="#111" stroke-width="0.22">H<tspan font-size="6.1" dy="2">2</tspan><tspan dy="-2"> evolution rate</tspan></text>
<text transform="translate(311.3,92) rotate(-90)" x="0" y="0" font-size="9.3" font-weight="bold" text-anchor="middle" fill="#111" font-family="'Liberation Sans',sans-serif" stroke="#111" stroke-width="0.22">(mmol g<tspan font-size="6.1" dy="2">Pt</tspan><tspan font-size="6.1" dy="-5">-1</tspan><tspan dy="3"> min</tspan><tspan font-size="6.1" dy="-3">-1</tspan><tspan dy="3">)</tspan></text>
<text x="346.8" y="34.1" font-size="10" font-weight="bold" fill="#111" text-anchor="start" font-family="'Liberation Sans',sans-serif" stroke="#111" stroke-width="0.22"><tspan>C</tspan><tspan font-size="6.8" dy="2.2">6</tspan><tspan font-size="10" dy="-2.2">H</tspan><tspan font-size="6.8" dy="2.2">12</tspan></text>
<text x="446.4" y="34.6" font-size="10" font-weight="bold" fill="#111" text-anchor="start" font-family="'Liberation Sans',sans-serif" stroke="#111" stroke-width="0.22"><tspan>C</tspan><tspan font-size="6.8" dy="2.2">7</tspan><tspan font-size="10" dy="-2.2">H</tspan><tspan font-size="6.8" dy="2.2">14</tspan></text>
<text x="541.4" y="34.2" font-size="10" font-weight="bold" fill="#111" text-anchor="start" font-family="'Liberation Sans',sans-serif" stroke="#111" stroke-width="0.22"><tspan>C</tspan><tspan font-size="6.8" dy="2.2">10</tspan><tspan font-size="10" dy="-2.2">H</tspan><tspan font-size="6.8" dy="2.2">18</tspan></text>
<text x="407.20" y="78.90" font-size="8" font-weight="bold" text-anchor="middle" fill="#222" font-family="'Liberation Sans',sans-serif"  stroke="#222" stroke-width="0.22">Pt/MAO</text>
<text x="407.20" y="88.90" font-size="8" font-weight="bold" text-anchor="middle" fill="#222" font-family="'Liberation Sans',sans-serif"  stroke="#222" stroke-width="0.22">(This work)</text>
<text x="501.00" y="87.80" font-size="8" font-weight="bold" text-anchor="middle" fill="#222" font-family="'Liberation Sans',sans-serif"  stroke="#222" stroke-width="0.22">Pt/MAO</text>
<text x="501.00" y="97.80" font-size="8" font-weight="bold" text-anchor="middle" fill="#222" font-family="'Liberation Sans',sans-serif"  stroke="#222" stroke-width="0.22">(This work)</text>
<text x="584.10" y="76.60" font-size="8" font-weight="bold" text-anchor="middle" fill="#222" font-family="'Liberation Sans',sans-serif"  stroke="#222" stroke-width="0.22">Pt/MAO</text>
<text x="584.10" y="86.60" font-size="8" font-weight="bold" text-anchor="middle" fill="#222" font-family="'Liberation Sans',sans-serif"  stroke="#222" stroke-width="0.22">(This work)</text>
<polygon points="390.90,25.40 391.94,28.17 394.89,28.30 392.58,30.15 393.37,33.00 390.90,31.36 388.43,33.00 389.22,30.15 386.91,28.30 389.86,28.17" fill="#6e2a72"/>
<polygon points="386.40,63.40 387.44,66.17 390.39,66.30 388.08,68.15 388.87,71.00 386.40,69.36 383.93,71.00 384.72,68.15 382.41,66.30 385.36,66.17" fill="#8fb4cc"/>
<polygon points="382.50,100.60 383.54,103.37 386.49,103.50 384.18,105.35 384.97,108.20 382.50,106.56 380.03,108.20 380.82,105.35 378.51,103.50 381.46,103.37" fill="#4caf3a"/>
<polygon points="469.70,79.40 470.74,82.17 473.69,82.30 471.38,84.15 472.17,87.00 469.70,85.36 467.23,87.00 468.02,84.15 465.71,82.30 468.66,82.17" fill="#a855f0"/>
<polygon points="460.70,100.40 461.74,103.17 464.69,103.30 462.38,105.15 463.17,108.00 460.70,106.36 458.23,108.00 459.02,105.15 456.71,103.30 459.66,103.17" fill="#f05050"/>
<polygon points="452.10,122.30 453.14,125.07 456.09,125.20 453.78,127.05 454.57,129.90 452.10,128.26 449.63,129.90 450.42,127.05 448.11,125.20 451.06,125.07" fill="#f060b0"/>
<polygon points="625.70,29.50 626.74,32.27 629.69,32.40 627.38,34.25 628.17,37.10 625.70,35.46 623.23,37.10 624.02,34.25 621.71,32.40 624.66,32.27" fill="#e07be8"/>
<polygon points="619.50,94.60 620.54,97.37 623.49,97.50 621.18,99.35 621.97,102.20 619.50,100.56 617.03,102.20 617.82,99.35 615.51,97.50 618.46,97.37" fill="#8b7d3a"/>
<polygon points="614.20,122.30 615.24,125.07 618.19,125.20 615.88,127.05 616.67,129.90 614.20,128.26 611.73,129.90 612.52,127.05 610.21,125.20 613.16,125.07" fill="#3a9080"/>
<circle cx="433.2" cy="111.6" r="2.5" fill="#f07a28"/><circle cx="432.4" cy="110.8" r="1.00" fill="#fff" opacity="0.55"/>
<text x="400.0" y="113.3" font-size="6.2" font-weight="bold" fill="#f07a28" textLength="29.7" lengthAdjust="spacingAndGlyphs" font-family="'Liberation Sans',sans-serif" stroke="#f07a28" stroke-width="0.22"><tspan>Pd/γ-Al</tspan><tspan font-size="4.2" dy="1.4">2</tspan><tspan font-size="6.2" dy="-1.4">O</tspan><tspan font-size="4.2" dy="1.4">3</tspan></text>
<circle cx="382.3" cy="135.3" r="2.5" fill="#8b1a1a"/><circle cx="381.5" cy="134.5" r="1.00" fill="#fff" opacity="0.55"/>
<text x="366.8" y="146.6" font-size="6.2" font-weight="bold" fill="#8b1a1a" textLength="26.1" lengthAdjust="spacingAndGlyphs" font-family="'Liberation Sans',sans-serif" stroke="#8b1a1a" stroke-width="0.22"><tspan>Pt/ND@G</tspan></text>
<circle cx="390.6" cy="165.5" r="2.5" fill="#f0a0a0"/><circle cx="389.8" cy="164.7" r="1.00" fill="#fff" opacity="0.55"/>
<text x="393.6" y="157.7" font-size="6.2" font-weight="bold" fill="#f09898" textLength="32.2" lengthAdjust="spacingAndGlyphs" font-family="'Liberation Sans',sans-serif" stroke="#f09898" stroke-width="0.22"><tspan>Ag-Rh/ACC</tspan></text>
<circle cx="352.6" cy="173.2" r="2.5" fill="#1e6e1e"/><circle cx="351.8" cy="172.4" r="1.00" fill="#fff" opacity="0.55"/>
<text x="347.4" y="168.0" font-size="6.2" font-weight="bold" fill="#3cc43c" textLength="15.6" lengthAdjust="spacingAndGlyphs" font-family="'Liberation Sans',sans-serif" stroke="#3cc43c" stroke-width="0.22"><tspan>Pt/CN</tspan></text>
<circle cx="412.0" cy="173.6" r="2.5" fill="#d8d830"/><circle cx="411.2" cy="172.8" r="1.00" fill="#fff" opacity="0.55"/>
<text x="401.6" y="168.0" font-size="6.2" font-weight="bold" fill="#d0d020" textLength="27.3" lengthAdjust="spacingAndGlyphs" font-family="'Liberation Sans',sans-serif" stroke="#d0d020" stroke-width="0.22"><tspan>NiCu/SiO</tspan><tspan font-size="4.2" dy="1.4">2</tspan></text>
<circle cx="513.9" cy="120.6" r="2.5" fill="#50a8f0"/><circle cx="513.1" cy="119.8" r="1.00" fill="#fff" opacity="0.55"/>
<text x="503.6" y="115.3" font-size="6.2" font-weight="bold" fill="#50a8f0" textLength="21.8" lengthAdjust="spacingAndGlyphs" font-family="'Liberation Sans',sans-serif" stroke="#50a8f0" stroke-width="0.22"><tspan>Pt/CeO</tspan><tspan font-size="4.2" dy="1.4">2</tspan></text>
<circle cx="513.9" cy="133.8" r="2.5" fill="#1e6e1e"/><circle cx="513.1" cy="133.0" r="1.00" fill="#fff" opacity="0.55"/>
<text x="479.7" y="136.0" font-size="6.2" font-weight="bold" fill="#2a7a2a" textLength="30.3" lengthAdjust="spacingAndGlyphs" font-family="'Liberation Sans',sans-serif" stroke="#2a7a2a" stroke-width="0.22"><tspan>Pt/Mg-Al-O</tspan></text>
<circle cx="513.9" cy="153.2" r="2.5" fill="#e070e0"/><circle cx="513.1" cy="152.4" r="1.00" fill="#fff" opacity="0.55"/>
<text x="501.2" y="147.5" font-size="6.2" font-weight="bold" fill="#e070e0" textLength="28.8" lengthAdjust="spacingAndGlyphs" font-family="'Liberation Sans',sans-serif" stroke="#e070e0" stroke-width="0.22"><tspan>Pt-B/Al</tspan><tspan font-size="4.2" dy="1.4">2</tspan><tspan font-size="6.2" dy="-1.4">O</tspan><tspan font-size="4.2" dy="1.4">3</tspan></text>
<circle cx="513.9" cy="166.3" r="2.5" fill="#2a8a80"/><circle cx="513.1" cy="165.5" r="1.00" fill="#fff" opacity="0.55"/>
<text x="501.2" y="162.3" font-size="6.2" font-weight="bold" fill="#707020" textLength="33.1" lengthAdjust="spacingAndGlyphs" font-family="'Liberation Sans',sans-serif" stroke="#707020" stroke-width="0.22"><tspan>Pt-Mn/Al</tspan><tspan font-size="4.2" dy="1.4">2</tspan><tspan font-size="6.2" dy="-1.4">O</tspan><tspan font-size="4.2" dy="1.4">3</tspan></text>
<text x="511.6" y="175.4" font-size="6.2" font-weight="bold" fill="#208080" textLength="26.8" lengthAdjust="spacingAndGlyphs" font-family="'Liberation Sans',sans-serif" stroke="#208080" stroke-width="0.22"><tspan>Pt-Cu/S-1</tspan></text>
<circle cx="469.4" cy="159.4" r="2.5" fill="#902020"/><circle cx="468.6" cy="158.6" r="1.00" fill="#fff" opacity="0.55"/>
<text x="467.6" y="153.2" font-size="6.2" font-weight="bold" fill="#902020" textLength="22.5" lengthAdjust="spacingAndGlyphs" font-family="'Liberation Sans',sans-serif" stroke="#902020" stroke-width="0.22"><tspan>Pt/Al</tspan><tspan font-size="4.2" dy="1.4">2</tspan><tspan font-size="6.2" dy="-1.4">O</tspan><tspan font-size="4.2" dy="1.4">3</tspan></text>
<circle cx="469.4" cy="162.4" r="2.5" fill="#d8d820"/><circle cx="468.6" cy="161.6" r="1.00" fill="#fff" opacity="0.55"/>
<text x="445.7" y="156.7" font-size="6.2" font-weight="bold" fill="#d0d020" textLength="19.9" lengthAdjust="spacingAndGlyphs" font-family="'Liberation Sans',sans-serif" stroke="#d0d020" stroke-width="0.22"><tspan>Pt/SiO</tspan><tspan font-size="4.2" dy="1.4">2</tspan></text>
<circle cx="452.1" cy="170.6" r="2.5" fill="#2030e0"/><circle cx="451.3" cy="169.8" r="1.00" fill="#fff" opacity="0.55"/>
<text x="440.3" y="168.0" font-size="6.2" font-weight="bold" fill="#2030e0" textLength="29.1" lengthAdjust="spacingAndGlyphs" font-family="'Liberation Sans',sans-serif" stroke="#2030e0" stroke-width="0.22"><tspan>Pt-Sn/TiO</tspan><tspan font-size="4.2" dy="1.4">2</tspan></text>
<circle cx="487.4" cy="168.9" r="2.5" fill="#4a1a6a"/><circle cx="486.6" cy="168.1" r="1.00" fill="#fff" opacity="0.55"/>
<text x="476.3" y="164.6" font-size="6.2" font-weight="bold" fill="#502070" textLength="28.4" lengthAdjust="spacingAndGlyphs" font-family="'Liberation Sans',sans-serif" stroke="#502070" stroke-width="0.22"><tspan>Pt-K/Al</tspan><tspan font-size="4.2" dy="1.4">2</tspan><tspan font-size="6.2" dy="-1.4">O</tspan><tspan font-size="4.2" dy="1.4">3</tspan></text>
<circle cx="469.4" cy="170.6" r="2.5" fill="#f08080"/><circle cx="468.6" cy="169.8" r="1.00" fill="#fff" opacity="0.55"/>
<text x="471.7" y="174.6" font-size="6.2" font-weight="bold" fill="#f08080" textLength="19.9" lengthAdjust="spacingAndGlyphs" font-family="'Liberation Sans',sans-serif" stroke="#f08080" stroke-width="0.22"><tspan>Pt/GAC</tspan></text>
<circle cx="619.5" cy="151.0" r="2.5" fill="#f07a28"/><circle cx="618.7" cy="150.2" r="1.00" fill="#fff" opacity="0.55"/>
<text x="595.0" y="152.7" font-size="6.2" font-weight="bold" fill="#f07a28" textLength="19.2" lengthAdjust="spacingAndGlyphs" font-family="'Liberation Sans',sans-serif" stroke="#f07a28" stroke-width="0.22"><tspan>Pt-Ni/C</tspan></text>
<circle cx="602.2" cy="161.2" r="2.5" fill="#1e6e1e"/><circle cx="601.4" cy="160.4" r="1.00" fill="#fff" opacity="0.55"/>
<text x="606.8" y="160.8" font-size="6.2" font-weight="bold" fill="#30c040" textLength="11.7" lengthAdjust="spacingAndGlyphs" font-family="'Liberation Sans',sans-serif" stroke="#30c040" stroke-width="0.22"><tspan>Pt/C</tspan></text>
<circle cx="602.2" cy="168.3" r="2.5" fill="#f0a0a0"/><circle cx="601.4" cy="167.5" r="1.00" fill="#fff" opacity="0.55"/>
<text x="610.8" y="168.5" font-size="6.2" font-weight="bold" fill="#f0a0a0" textLength="22.5" lengthAdjust="spacingAndGlyphs" font-family="'Liberation Sans',sans-serif" stroke="#f0a0a0" stroke-width="0.22"><tspan>Pt/Al</tspan><tspan font-size="4.2" dy="1.4">2</tspan><tspan font-size="6.2" dy="-1.4">O</tspan><tspan font-size="4.2" dy="1.4">3</tspan></text>
<circle cx="602.2" cy="171.2" r="2.5" fill="#d8e040"/><circle cx="601.4" cy="170.4" r="1.00" fill="#fff" opacity="0.55"/>
<text x="582.8" y="173.8" font-size="6.2" font-weight="bold" fill="#d0d830" textLength="15.3" lengthAdjust="spacingAndGlyphs" font-family="'Liberation Sans',sans-serif" stroke="#d0d830" stroke-width="0.22"><tspan>Pt/AC</tspan></text>
<circle cx="591.2" cy="165.5" r="2.5" fill="#70b0e0"/><circle cx="590.4" cy="164.7" r="1.00" fill="#fff" opacity="0.55"/>
<text x="575.9" y="162.8" font-size="6.2" font-weight="bold" fill="#70b0e0" textLength="19.1" lengthAdjust="spacingAndGlyphs" font-family="'Liberation Sans',sans-serif" stroke="#70b0e0" stroke-width="0.22"><tspan>Pt/CNF</tspan></text>
<circle cx="559.5" cy="162.4" r="2.5" fill="#502070"/><circle cx="558.7" cy="161.6" r="1.00" fill="#fff" opacity="0.55"/>
<text x="544.9" y="158.5" font-size="6.2" font-weight="bold" fill="#502070" textLength="25.6" lengthAdjust="spacingAndGlyphs" font-family="'Liberation Sans',sans-serif" stroke="#502070" stroke-width="0.22"><tspan>Pt/CNT-N</tspan></text>
<circle cx="559.5" cy="167.5" r="2.5" fill="#30a030"/><circle cx="558.7" cy="166.7" r="1.00" fill="#fff" opacity="0.55"/>
<text x="563.9" y="168.9" font-size="6.2" font-weight="bold" fill="#30a030" textLength="19.3" lengthAdjust="spacingAndGlyphs" font-family="'Liberation Sans',sans-serif" stroke="#30a030" stroke-width="0.22"><tspan>Pt/CNT</tspan></text>
<defs><linearGradient id="barG" gradientUnits="userSpaceOnUse" x1="77.9" y1="0" x2="624.5" y2="0"><stop offset="0.000" stop-color="#fbf8e6"/><stop offset="0.114" stop-color="#f9f1e4"/><stop offset="0.223" stop-color="#f8eae6"/><stop offset="0.406" stop-color="#f7e2e6"/><stop offset="0.608" stop-color="#f2e0e8"/><stop offset="0.717" stop-color="#eae0ea"/><stop offset="0.809" stop-color="#e0e4ee"/><stop offset="0.891" stop-color="#d2e8f3"/><stop offset="0.955" stop-color="#c8ecf8"/><stop offset="0.999" stop-color="#c4ecf8"/></linearGradient><radialGradient id="bub" cx="0.5" cy="0.45" r="0.55"><stop offset="0" stop-color="#fff" stop-opacity="0.3"/><stop offset="0.55" stop-color="#fff" stop-opacity="0.1"/><stop offset="0.82" stop-color="#fff" stop-opacity="0"/><stop offset="1" stop-color="#503050" stop-opacity="0.07"/></radialGradient><clipPath id="barClip"><rect x="77.9" y="345.2" width="546.6" height="54"/></clipPath></defs>
<rect x="77.9" y="345.2" width="546.6" height="54.0" fill="url(#barG)"/>
<g clip-path="url(#barClip)">
<ellipse cx="97.6" cy="353.0" rx="10.8" ry="8.8" fill="#f6ebe1"/>
<ellipse cx="97.6" cy="353.0" rx="10.8" ry="8.8" fill="url(#bub)"/>
<ellipse cx="117.2" cy="353.0" rx="7.5" ry="6.4" fill="#f3e4dd"/>
<ellipse cx="117.2" cy="353.0" rx="7.5" ry="6.4" fill="url(#bub)"/>
<ellipse cx="136.8" cy="353.0" rx="10.8" ry="8.8" fill="#f4e4dc"/>
<ellipse cx="136.8" cy="353.0" rx="10.8" ry="8.8" fill="url(#bub)"/>
<ellipse cx="156.3" cy="353.0" rx="7.5" ry="6.4" fill="#f1dcd9"/>
<ellipse cx="156.3" cy="353.0" rx="7.5" ry="6.4" fill="url(#bub)"/>
<ellipse cx="175.9" cy="353.0" rx="10.8" ry="8.8" fill="#f3dfdc"/>
<ellipse cx="175.9" cy="353.0" rx="10.8" ry="8.8" fill="url(#bub)"/>
<ellipse cx="195.5" cy="353.0" rx="7.5" ry="6.4" fill="#f0d3d6"/>
<ellipse cx="195.5" cy="353.0" rx="7.5" ry="6.4" fill="url(#bub)"/>
<ellipse cx="215.1" cy="353.0" rx="10.8" ry="8.8" fill="#f3dbdc"/>
<ellipse cx="215.1" cy="353.0" rx="10.8" ry="8.8" fill="url(#bub)"/>
<ellipse cx="234.7" cy="353.0" rx="7.5" ry="6.4" fill="#f0cfd5"/>
<ellipse cx="234.7" cy="353.0" rx="7.5" ry="6.4" fill="url(#bub)"/>
<ellipse cx="254.2" cy="353.0" rx="10.8" ry="8.8" fill="#f2d9db"/>
<ellipse cx="254.2" cy="353.0" rx="10.8" ry="8.8" fill="url(#bub)"/>
<ellipse cx="273.8" cy="353.0" rx="7.5" ry="6.4" fill="#efccd5"/>
<ellipse cx="273.8" cy="353.0" rx="7.5" ry="6.4" fill="url(#bub)"/>
<ellipse cx="293.4" cy="353.0" rx="10.8" ry="8.8" fill="#f1d6da"/>
<ellipse cx="293.4" cy="353.0" rx="10.8" ry="8.8" fill="url(#bub)"/>
<ellipse cx="313.0" cy="353.0" rx="7.5" ry="6.4" fill="#efcad4"/>
<ellipse cx="313.0" cy="353.0" rx="7.5" ry="6.4" fill="url(#bub)"/>
<ellipse cx="332.6" cy="353.0" rx="10.8" ry="8.8" fill="#f0d7dc"/>
<ellipse cx="332.6" cy="353.0" rx="10.8" ry="8.8" fill="url(#bub)"/>
<ellipse cx="352.1" cy="353.0" rx="7.5" ry="6.4" fill="#eecad5"/>
<ellipse cx="352.1" cy="353.0" rx="7.5" ry="6.4" fill="url(#bub)"/>
<ellipse cx="371.7" cy="353.0" rx="10.8" ry="8.8" fill="#efd8df"/>
<ellipse cx="371.7" cy="353.0" rx="10.8" ry="8.8" fill="url(#bub)"/>
<ellipse cx="391.3" cy="353.0" rx="7.5" ry="6.4" fill="#edcad6"/>
<ellipse cx="391.3" cy="353.0" rx="7.5" ry="6.4" fill="url(#bub)"/>
<ellipse cx="410.9" cy="353.0" rx="10.8" ry="8.8" fill="#eed9e2"/>
<ellipse cx="410.9" cy="353.0" rx="10.8" ry="8.8" fill="url(#bub)"/>
<ellipse cx="430.5" cy="353.0" rx="7.5" ry="6.4" fill="#ebcbd7"/>
<ellipse cx="430.5" cy="353.0" rx="7.5" ry="6.4" fill="url(#bub)"/>
<ellipse cx="450.0" cy="353.0" rx="10.8" ry="8.8" fill="#e7d8e3"/>
<ellipse cx="450.0" cy="353.0" rx="10.8" ry="8.8" fill="url(#bub)"/>
<ellipse cx="469.6" cy="353.0" rx="7.5" ry="6.4" fill="#e6ceda"/>
<ellipse cx="469.6" cy="353.0" rx="7.5" ry="6.4" fill="url(#bub)"/>
<ellipse cx="489.2" cy="353.0" rx="10.8" ry="8.8" fill="#e1d9e5"/>
<ellipse cx="489.2" cy="353.0" rx="10.8" ry="8.8" fill="url(#bub)"/>
<ellipse cx="508.8" cy="353.0" rx="7.5" ry="6.4" fill="#e1d1dd"/>
<ellipse cx="508.8" cy="353.0" rx="7.5" ry="6.4" fill="url(#bub)"/>
<ellipse cx="528.4" cy="353.0" rx="10.8" ry="8.8" fill="#dbdae6"/>
<ellipse cx="528.4" cy="353.0" rx="10.8" ry="8.8" fill="url(#bub)"/>
<ellipse cx="547.9" cy="353.0" rx="7.5" ry="6.4" fill="#dcd4e1"/>
<ellipse cx="547.9" cy="353.0" rx="7.5" ry="6.4" fill="url(#bub)"/>
<ellipse cx="567.5" cy="353.0" rx="10.8" ry="8.8" fill="#d4dce8"/>
<ellipse cx="567.5" cy="353.0" rx="10.8" ry="8.8" fill="url(#bub)"/>
<ellipse cx="587.1" cy="353.0" rx="7.5" ry="6.4" fill="#d6d7e5"/>
<ellipse cx="587.1" cy="353.0" rx="7.5" ry="6.4" fill="url(#bub)"/>
<ellipse cx="606.7" cy="353.0" rx="10.8" ry="8.8" fill="#cfdfeb"/>
<ellipse cx="606.7" cy="353.0" rx="10.8" ry="8.8" fill="url(#bub)"/>
<ellipse cx="117.2" cy="371.8" rx="10.8" ry="8.8" fill="#f5e7df"/>
<ellipse cx="117.2" cy="371.8" rx="10.8" ry="8.8" fill="url(#bub)"/>
<ellipse cx="136.8" cy="371.8" rx="7.5" ry="6.4" fill="#f2e0da"/>
<ellipse cx="136.8" cy="371.8" rx="7.5" ry="6.4" fill="url(#bub)"/>
<ellipse cx="156.3" cy="371.8" rx="10.8" ry="8.8" fill="#f4e2dc"/>
<ellipse cx="156.3" cy="371.8" rx="10.8" ry="8.8" fill="url(#bub)"/>
<ellipse cx="175.9" cy="371.8" rx="7.5" ry="6.4" fill="#f1d7d8"/>
<ellipse cx="175.9" cy="371.8" rx="7.5" ry="6.4" fill="url(#bub)"/>
<ellipse cx="195.5" cy="371.8" rx="10.8" ry="8.8" fill="#f3dddc"/>
<ellipse cx="195.5" cy="371.8" rx="10.8" ry="8.8" fill="url(#bub)"/>
<ellipse cx="215.1" cy="371.8" rx="7.5" ry="6.4" fill="#f0d1d6"/>
<ellipse cx="215.1" cy="371.8" rx="7.5" ry="6.4" fill="url(#bub)"/>
<ellipse cx="234.7" cy="371.8" rx="10.8" ry="8.8" fill="#f2dadb"/>
<ellipse cx="234.7" cy="371.8" rx="10.8" ry="8.8" fill="url(#bub)"/>
<ellipse cx="254.2" cy="371.8" rx="7.5" ry="6.4" fill="#efced5"/>
<ellipse cx="254.2" cy="371.8" rx="7.5" ry="6.4" fill="url(#bub)"/>
<ellipse cx="273.8" cy="371.8" rx="10.8" ry="8.8" fill="#f2d8db"/>
<ellipse cx="273.8" cy="371.8" rx="10.8" ry="8.8" fill="url(#bub)"/>
<ellipse cx="293.4" cy="371.8" rx="7.5" ry="6.4" fill="#efcbd4"/>
<ellipse cx="293.4" cy="371.8" rx="7.5" ry="6.4" fill="url(#bub)"/>
<ellipse cx="313.0" cy="371.8" rx="10.8" ry="8.8" fill="#f1d6db"/>
<ellipse cx="313.0" cy="371.8" rx="10.8" ry="8.8" fill="url(#bub)"/>
<ellipse cx="332.6" cy="371.8" rx="7.5" ry="6.4" fill="#eecad5"/>
<ellipse cx="332.6" cy="371.8" rx="7.5" ry="6.4" fill="url(#bub)"/>
<ellipse cx="352.1" cy="371.8" rx="10.8" ry="8.8" fill="#f0d7de"/>
<ellipse cx="352.1" cy="371.8" rx="10.8" ry="8.8" fill="url(#bub)"/>
<ellipse cx="371.7" cy="371.8" rx="7.5" ry="6.4" fill="#eecad5"/>
<ellipse cx="371.7" cy="371.8" rx="7.5" ry="6.4" fill="url(#bub)"/>
<ellipse cx="391.3" cy="371.8" rx="10.8" ry="8.8" fill="#efd8e1"/>
<ellipse cx="391.3" cy="371.8" rx="10.8" ry="8.8" fill="url(#bub)"/>
<ellipse cx="410.9" cy="371.8" rx="7.5" ry="6.4" fill="#edcad6"/>
<ellipse cx="410.9" cy="371.8" rx="7.5" ry="6.4" fill="url(#bub)"/>
<ellipse cx="430.5" cy="371.8" rx="10.8" ry="8.8" fill="#ebd9e3"/>
<ellipse cx="430.5" cy="371.8" rx="10.8" ry="8.8" fill="url(#bub)"/>
<ellipse cx="450.0" cy="371.8" rx="7.5" ry="6.4" fill="#e8cdd9"/>
<ellipse cx="450.0" cy="371.8" rx="7.5" ry="6.4" fill="url(#bub)"/>
<ellipse cx="469.6" cy="371.8" rx="10.8" ry="8.8" fill="#e4d8e4"/>
<ellipse cx="469.6" cy="371.8" rx="10.8" ry="8.8" fill="url(#bub)"/>
<ellipse cx="489.2" cy="371.8" rx="7.5" ry="6.4" fill="#e4d0dc"/>
<ellipse cx="489.2" cy="371.8" rx="7.5" ry="6.4" fill="url(#bub)"/>
<ellipse cx="508.8" cy="371.8" rx="10.8" ry="8.8" fill="#dedae6"/>
<ellipse cx="508.8" cy="371.8" rx="10.8" ry="8.8" fill="url(#bub)"/>
<ellipse cx="528.4" cy="371.8" rx="7.5" ry="6.4" fill="#dfd3df"/>
<ellipse cx="528.4" cy="371.8" rx="7.5" ry="6.4" fill="url(#bub)"/>
<ellipse cx="547.9" cy="371.8" rx="10.8" ry="8.8" fill="#d8dbe7"/>
<ellipse cx="547.9" cy="371.8" rx="10.8" ry="8.8" fill="url(#bub)"/>
<ellipse cx="567.5" cy="371.8" rx="7.5" ry="6.4" fill="#d8d6e4"/>
<ellipse cx="567.5" cy="371.8" rx="7.5" ry="6.4" fill="url(#bub)"/>
<ellipse cx="587.1" cy="371.8" rx="10.8" ry="8.8" fill="#d2dde9"/>
<ellipse cx="587.1" cy="371.8" rx="10.8" ry="8.8" fill="url(#bub)"/>
<ellipse cx="97.6" cy="389.0" rx="10.8" ry="8.8" fill="#f6ebe1"/>
<ellipse cx="97.6" cy="389.0" rx="10.8" ry="8.8" fill="url(#bub)"/>
<ellipse cx="117.2" cy="389.0" rx="7.5" ry="6.4" fill="#f3e4dd"/>
<ellipse cx="117.2" cy="389.0" rx="7.5" ry="6.4" fill="url(#bub)"/>
<ellipse cx="136.8" cy="389.0" rx="10.8" ry="8.8" fill="#f4e4dc"/>
<ellipse cx="136.8" cy="389.0" rx="10.8" ry="8.8" fill="url(#bub)"/>
<ellipse cx="156.3" cy="389.0" rx="7.5" ry="6.4" fill="#f1dcd9"/>
<ellipse cx="156.3" cy="389.0" rx="7.5" ry="6.4" fill="url(#bub)"/>
<ellipse cx="175.9" cy="389.0" rx="10.8" ry="8.8" fill="#f3dfdc"/>
<ellipse cx="175.9" cy="389.0" rx="10.8" ry="8.8" fill="url(#bub)"/>
<ellipse cx="195.5" cy="389.0" rx="7.5" ry="6.4" fill="#f0d3d6"/>
<ellipse cx="195.5" cy="389.0" rx="7.5" ry="6.4" fill="url(#bub)"/>
<ellipse cx="215.1" cy="389.0" rx="10.8" ry="8.8" fill="#f3dbdc"/>
<ellipse cx="215.1" cy="389.0" rx="10.8" ry="8.8" fill="url(#bub)"/>
<ellipse cx="234.7" cy="389.0" rx="7.5" ry="6.4" fill="#f0cfd5"/>
<ellipse cx="234.7" cy="389.0" rx="7.5" ry="6.4" fill="url(#bub)"/>
<ellipse cx="254.2" cy="389.0" rx="10.8" ry="8.8" fill="#f2d9db"/>
<ellipse cx="254.2" cy="389.0" rx="10.8" ry="8.8" fill="url(#bub)"/>
<ellipse cx="273.8" cy="389.0" rx="7.5" ry="6.4" fill="#efccd5"/>
<ellipse cx="273.8" cy="389.0" rx="7.5" ry="6.4" fill="url(#bub)"/>
<ellipse cx="293.4" cy="389.0" rx="10.8" ry="8.8" fill="#f1d6da"/>
<ellipse cx="293.4" cy="389.0" rx="10.8" ry="8.8" fill="url(#bub)"/>
<ellipse cx="313.0" cy="389.0" rx="7.5" ry="6.4" fill="#efcad4"/>
<ellipse cx="313.0" cy="389.0" rx="7.5" ry="6.4" fill="url(#bub)"/>
<ellipse cx="332.6" cy="389.0" rx="10.8" ry="8.8" fill="#f0d7dc"/>
<ellipse cx="332.6" cy="389.0" rx="10.8" ry="8.8" fill="url(#bub)"/>
<ellipse cx="352.1" cy="389.0" rx="7.5" ry="6.4" fill="#eecad5"/>
<ellipse cx="352.1" cy="389.0" rx="7.5" ry="6.4" fill="url(#bub)"/>
<ellipse cx="371.7" cy="389.0" rx="10.8" ry="8.8" fill="#efd8df"/>
<ellipse cx="371.7" cy="389.0" rx="10.8" ry="8.8" fill="url(#bub)"/>
<ellipse cx="391.3" cy="389.0" rx="7.5" ry="6.4" fill="#edcad6"/>
<ellipse cx="391.3" cy="389.0" rx="7.5" ry="6.4" fill="url(#bub)"/>
<ellipse cx="410.9" cy="389.0" rx="10.8" ry="8.8" fill="#eed9e2"/>
<ellipse cx="410.9" cy="389.0" rx="10.8" ry="8.8" fill="url(#bub)"/>
<ellipse cx="430.5" cy="389.0" rx="7.5" ry="6.4" fill="#ebcbd7"/>
<ellipse cx="430.5" cy="389.0" rx="7.5" ry="6.4" fill="url(#bub)"/>
<ellipse cx="450.0" cy="389.0" rx="10.8" ry="8.8" fill="#e7d8e3"/>
<ellipse cx="450.0" cy="389.0" rx="10.8" ry="8.8" fill="url(#bub)"/>
<ellipse cx="469.6" cy="389.0" rx="7.5" ry="6.4" fill="#e6ceda"/>
<ellipse cx="469.6" cy="389.0" rx="7.5" ry="6.4" fill="url(#bub)"/>
<ellipse cx="489.2" cy="389.0" rx="10.8" ry="8.8" fill="#e1d9e5"/>
<ellipse cx="489.2" cy="389.0" rx="10.8" ry="8.8" fill="url(#bub)"/>
<ellipse cx="508.8" cy="389.0" rx="7.5" ry="6.4" fill="#e1d1dd"/>
<ellipse cx="508.8" cy="389.0" rx="7.5" ry="6.4" fill="url(#bub)"/>
<ellipse cx="528.4" cy="389.0" rx="10.8" ry="8.8" fill="#dbdae6"/>
<ellipse cx="528.4" cy="389.0" rx="10.8" ry="8.8" fill="url(#bub)"/>
<ellipse cx="547.9" cy="389.0" rx="7.5" ry="6.4" fill="#dcd4e1"/>
<ellipse cx="547.9" cy="389.0" rx="7.5" ry="6.4" fill="url(#bub)"/>
<ellipse cx="567.5" cy="389.0" rx="10.8" ry="8.8" fill="#d4dce8"/>
<ellipse cx="567.5" cy="389.0" rx="10.8" ry="8.8" fill="url(#bub)"/>
<ellipse cx="587.1" cy="389.0" rx="7.5" ry="6.4" fill="#d6d7e5"/>
<ellipse cx="587.1" cy="389.0" rx="7.5" ry="6.4" fill="url(#bub)"/>
<ellipse cx="606.7" cy="389.0" rx="10.8" ry="8.8" fill="#cfdfeb"/>
<ellipse cx="606.7" cy="389.0" rx="10.8" ry="8.8" fill="url(#bub)"/>
</g>
<rect x="58.5" y="211.3" width="577.5" height="189.2" fill="none" stroke="#9a9a9a" stroke-width="1"/>
<text x="158.9" y="230.5" font-size="12" font-weight="bold" textLength="22.4" lengthAdjust="spacingAndGlyphs" fill="#111" font-family="'Liberation Serif',serif" stroke="#111" stroke-width="0.22">RSS</text>
<text x="184.2" y="231.1" font-size="14" font-weight="bold" textLength="7.2" lengthAdjust="spacingAndGlyphs" fill="#111" font-family="'Liberation Serif',serif" stroke="#111" stroke-width="0.22">=</text>
<text x="195.8" y="234.6" font-size="28" font-weight="bold" fill="#111" font-family="'Liberation Serif',serif" textLength="13.4" lengthAdjust="spacingAndGlyphs" stroke="#111" stroke-width="0.22">∑</text>
<text x="210.6" y="232.3" font-size="15" font-weight="bold" textLength="4.2" lengthAdjust="spacingAndGlyphs" fill="#111" font-family="'Liberation Serif',serif" stroke="#111" stroke-width="0.22">[</text>
<text x="216.2" y="230.5" font-size="11.5" font-weight="bold" font-style="italic" textLength="22.0" lengthAdjust="spacingAndGlyphs" fill="#111" font-family="'Liberation Serif',serif" stroke="#111" stroke-width="0.22">TOF</text>
<text x="238.6" y="233.3" font-size="8" font-weight="bold" font-style="italic" textLength="12.7" lengthAdjust="spacingAndGlyphs" fill="#111" font-family="'Liberation Serif',serif" stroke="#111" stroke-width="0.22">i,T</text>
<text x="257.6" y="231.1" font-size="14" font-weight="bold" textLength="7.2" lengthAdjust="spacingAndGlyphs" fill="#111" font-family="'Liberation Serif',serif" stroke="#111" stroke-width="0.22">−</text>
<text x="268.3" y="232.3" font-size="15" font-weight="bold" textLength="4.6" lengthAdjust="spacingAndGlyphs" fill="#111" font-family="'Liberation Serif',serif" stroke="#111" stroke-width="0.22">(</text>
<text x="273.2" y="230.5" font-size="13" font-weight="normal" font-style="italic" textLength="6.7" lengthAdjust="spacingAndGlyphs" fill="#111" font-family="'Liberation Serif',serif" stroke="#111" stroke-width="0.22">f</text>
<text x="280.2" y="233.3" font-size="8.5" font-weight="normal" font-style="italic" textLength="4.1" lengthAdjust="spacingAndGlyphs" fill="#111" font-family="'Liberation Serif',serif" stroke="#111" stroke-width="0.22">s</text>
<text x="284.6" y="230.5" font-size="11.5" font-weight="bold" font-style="italic" textLength="23.3" lengthAdjust="spacingAndGlyphs" fill="#111" font-family="'Liberation Serif',serif" stroke="#111" stroke-width="0.22">TOS</text>
<text x="308.8" y="233.3" font-size="8.5" font-weight="normal" font-style="italic" textLength="4.9" lengthAdjust="spacingAndGlyphs" fill="#111" font-family="'Liberation Serif',serif" stroke="#111" stroke-width="0.22">s</text>
<text x="318.2" y="231.1" font-size="14" font-weight="bold" textLength="7.4" lengthAdjust="spacingAndGlyphs" fill="#111" font-family="'Liberation Serif',serif" stroke="#111" stroke-width="0.22">+</text>
<text x="328.3" y="230.5" font-size="13" font-weight="normal" font-style="italic" textLength="6.8" lengthAdjust="spacingAndGlyphs" fill="#111" font-family="'Liberation Serif',serif" stroke="#111" stroke-width="0.22">f</text>
<text x="335.3" y="233.3" font-size="8.5" font-weight="normal" font-style="italic" textLength="5.4" lengthAdjust="spacingAndGlyphs" fill="#111" font-family="'Liberation Serif',serif" stroke="#111" stroke-width="0.22">c</text>
<text x="342.1" y="230.5" font-size="11.5" font-weight="bold" font-style="italic" textLength="23.6" lengthAdjust="spacingAndGlyphs" fill="#111" font-family="'Liberation Serif',serif" stroke="#111" stroke-width="0.22">TOS</text>
<text x="366.6" y="233.3" font-size="8.5" font-weight="normal" font-style="italic" textLength="4.4" lengthAdjust="spacingAndGlyphs" fill="#111" font-family="'Liberation Serif',serif" stroke="#111" stroke-width="0.22">c</text>
<text x="374.3" y="231.1" font-size="14" font-weight="bold" textLength="7.4" lengthAdjust="spacingAndGlyphs" fill="#111" font-family="'Liberation Serif',serif" stroke="#111" stroke-width="0.22">+</text>
<text x="385.2" y="230.5" font-size="13" font-weight="normal" font-style="italic" textLength="7.3" lengthAdjust="spacingAndGlyphs" fill="#111" font-family="'Liberation Serif',serif" stroke="#111" stroke-width="0.22">f</text>
<text x="392.7" y="233.3" font-size="8.5" font-weight="normal" font-style="italic" textLength="6.2" lengthAdjust="spacingAndGlyphs" fill="#111" font-family="'Liberation Serif',serif" stroke="#111" stroke-width="0.22">n</text>
<text x="399.1" y="230.5" font-size="11.5" font-weight="bold" font-style="italic" textLength="6.3" lengthAdjust="spacingAndGlyphs" fill="#111" font-family="'Liberation Serif',serif" stroke="#111" stroke-width="0.22">x</text>
<text x="405.6" y="230.5" font-size="11.5" font-weight="bold" font-style="italic" textLength="25.5" lengthAdjust="spacingAndGlyphs" fill="#111" font-family="'Liberation Serif',serif" stroke="#111" stroke-width="0.22">TOS</text>
<text x="431.0" y="233.3" font-size="8.5" font-weight="normal" font-style="italic" textLength="6.0" lengthAdjust="spacingAndGlyphs" fill="#111" font-family="'Liberation Serif',serif" stroke="#111" stroke-width="0.22">n</text>
<text x="436.9" y="232.3" font-size="15" font-weight="bold" textLength="3.5" lengthAdjust="spacingAndGlyphs" fill="#111" font-family="'Liberation Serif',serif" stroke="#111" stroke-width="0.22">)</text>
<text x="441.0" y="232.3" font-size="15" font-weight="bold" textLength="3.2" lengthAdjust="spacingAndGlyphs" fill="#111" font-family="'Liberation Serif',serif" stroke="#111" stroke-width="0.22">]</text>
<text x="445.1" y="227.4" font-size="8.5" font-weight="normal" textLength="5.8" lengthAdjust="spacingAndGlyphs" fill="#111" font-family="'Liberation Serif',serif" stroke="#111" stroke-width="0.22">2</text>
<text x="159.4" y="262.0" font-size="12" font-weight="bold" textLength="6.1" lengthAdjust="spacingAndGlyphs" fill="#111" font-family="'Liberation Serif',serif" stroke="#111" stroke-width="0.22">f</text>
<text x="165.5" y="264.6" font-size="8" font-weight="bold" textLength="3.9" lengthAdjust="spacingAndGlyphs" fill="#111" font-family="'Liberation Serif',serif" stroke="#111" stroke-width="0.22">s</text>
<text x="173.2" y="262.6" font-size="14" font-weight="bold" textLength="7.4" lengthAdjust="spacingAndGlyphs" fill="#111" font-family="'Liberation Serif',serif" stroke="#111" stroke-width="0.22">+</text>
<text x="183.9" y="262.0" font-size="12" font-weight="bold" textLength="5.3" lengthAdjust="spacingAndGlyphs" fill="#111" font-family="'Liberation Serif',serif" stroke="#111" stroke-width="0.22">f</text>
<text x="189.2" y="264.6" font-size="8" font-weight="bold" textLength="4.3" lengthAdjust="spacingAndGlyphs" fill="#111" font-family="'Liberation Serif',serif" stroke="#111" stroke-width="0.22">c</text>
<text x="197.7" y="262.6" font-size="14" font-weight="bold" textLength="7.4" lengthAdjust="spacingAndGlyphs" fill="#111" font-family="'Liberation Serif',serif" stroke="#111" stroke-width="0.22">+</text>
<text x="208.4" y="262.0" font-size="12" font-weight="bold" textLength="5.3" lengthAdjust="spacingAndGlyphs" fill="#111" font-family="'Liberation Serif',serif" stroke="#111" stroke-width="0.22">f</text>
<text x="213.7" y="264.6" font-size="8" font-weight="bold" textLength="5.3" lengthAdjust="spacingAndGlyphs" fill="#111" font-family="'Liberation Serif',serif" stroke="#111" stroke-width="0.22">n</text>
<text x="223.1" y="262.6" font-size="14" font-weight="bold" textLength="8.8" lengthAdjust="spacingAndGlyphs" fill="#111" font-family="'Liberation Serif',serif" stroke="#111" stroke-width="0.22">=</text>
<text x="236.5" y="262.0" font-size="11.5" font-weight="bold" textLength="32.4" lengthAdjust="spacingAndGlyphs" fill="#111" font-family="'Liberation Serif',serif" stroke="#111" stroke-width="0.22">100%</text>
<text x="287.0" y="262.0" font-size="11.5" font-weight="bold" font-style="italic" textLength="22.3" lengthAdjust="spacingAndGlyphs" fill="#111" font-family="'Liberation Serif',serif" stroke="#111" stroke-width="0.22">TOS</text>
<text x="310.6" y="264.8" font-size="8.5" font-weight="normal" font-style="italic" textLength="4.9" lengthAdjust="spacingAndGlyphs" fill="#111" font-family="'Liberation Serif',serif" stroke="#111" stroke-width="0.22">c</text>
<text x="319.6" y="262.6" font-size="14" font-weight="bold" textLength="9.0" lengthAdjust="spacingAndGlyphs" fill="#111" font-family="'Liberation Serif',serif" stroke="#111" stroke-width="0.22">=</text>
<text x="332.3" y="262.0" font-size="11.5" font-weight="bold" font-style="italic" textLength="29.6" lengthAdjust="spacingAndGlyphs" fill="#111" font-family="'Liberation Serif',serif" stroke="#111" stroke-width="0.22">Aexp</text>
<text x="362.2" y="263.8" font-size="15" font-weight="bold" textLength="3.6" lengthAdjust="spacingAndGlyphs" fill="#111" font-family="'Liberation Serif',serif" stroke="#111" stroke-width="0.22">(</text>
<text x="367.8" y="262.6" font-size="14" font-weight="bold" textLength="7.7" lengthAdjust="spacingAndGlyphs" fill="#111" font-family="'Liberation Serif',serif" stroke="#111" stroke-width="0.22">−</text>
<text x="380.1" y="255.1" font-size="10.5" font-weight="bold" font-style="italic" textLength="7.6" lengthAdjust="spacingAndGlyphs" fill="#111" font-family="'Liberation Serif',serif" stroke="#111" stroke-width="0.22">E</text>
<text x="388.0" y="256.3" font-size="8.5" font-weight="normal" font-style="italic" textLength="5.9" lengthAdjust="spacingAndGlyphs" fill="#111" font-family="'Liberation Serif',serif" stroke="#111" stroke-width="0.22">a</text>
<line x1="379" y1="257.8" x2="395" y2="257.8" stroke="#111" stroke-width="0.9"/>
<text x="379.0" y="269.2" font-size="10.5" font-weight="bold" font-style="italic" textLength="15.3" lengthAdjust="spacingAndGlyphs" fill="#111" font-family="'Liberation Serif',serif" stroke="#111" stroke-width="0.22">RT</text>
<text x="395.8" y="263.8" font-size="15" font-weight="bold" textLength="3.3" lengthAdjust="spacingAndGlyphs" fill="#111" font-family="'Liberation Serif',serif" stroke="#111" stroke-width="0.22">)</text>
<text x="400.1" y="262.0" font-size="11.5" font-weight="bold" font-style="italic" textLength="8.1" lengthAdjust="spacingAndGlyphs" fill="#111" font-family="'Liberation Serif',serif" stroke="#111" stroke-width="0.22">P</text>
<text x="408.2" y="265.2" font-size="8.5" font-weight="bold" font-style="italic" textLength="39.4" lengthAdjust="spacingAndGlyphs" fill="#111" font-family="'Liberation Serif',serif" stroke="#111" stroke-width="0.22">reactant</text>
<text x="449.8" y="256.4" font-size="8.5" font-weight="normal" font-style="italic" textLength="5.1" lengthAdjust="spacingAndGlyphs" fill="#111" font-family="'Liberation Serif',serif" stroke="#111" stroke-width="0.22">a</text>
<path d="M89.8,266.4 L89.8,272.0 Q89.8,276.5 94.3,276.5 L296.2,276.5 Q300.5,276.5 300.5,281.5 L300.5,297.5 M300.5,281.5 Q300.5,276.5 304.8,276.5 L507.9,276.5 Q512.4,276.5 512.4,272.0 L512.4,266.4" fill="none" stroke="#efb48c" stroke-width="2.9"/>
<rect x="531.4" y="218.4" width="96" height="59" fill="#f1f1f1"/>
<circle cx="542.80" cy="226.00" r="5.5" fill="url(#gY)"/>
<circle cx="542.80" cy="247.00" r="5.5" fill="url(#gCG)"/>
<circle cx="542.80" cy="268.90" r="5.5" fill="url(#gCB)"/>
<text x="553.90" y="229.00" font-size="9.2" font-weight="bold" text-anchor="start" fill="#111" font-family="'Liberation Sans',sans-serif"  stroke="#111" stroke-width="0.22">Single atom</text>
<text x="555.90" y="250.60" font-size="9.2" font-weight="bold" text-anchor="start" fill="#111" font-family="'Liberation Sans',sans-serif"  stroke="#111" stroke-width="0.22">Cluster</text>
<text x="556.80" y="272.20" font-size="9.2" font-weight="bold" text-anchor="start" fill="#111" font-family="'Liberation Sans',sans-serif"  stroke="#111" stroke-width="0.22">Nanoparticle</text>
<text x="105.00" y="301.20" font-size="10.5" font-weight="bold" text-anchor="middle" fill="#111" font-family="'Liberation Sans',sans-serif"  stroke="#111" stroke-width="0.22">100%</text>
<text x="169.50" y="301.20" font-size="10.5" font-weight="bold" text-anchor="middle" fill="#111" font-family="'Liberation Sans',sans-serif"  stroke="#111" stroke-width="0.22">63%</text>
<text x="208.20" y="301.20" font-size="10.5" font-weight="bold" text-anchor="middle" fill="#111" font-family="'Liberation Sans',sans-serif"  stroke="#111" stroke-width="0.22">37%</text>
<text x="279.00" y="301.20" font-size="10.5" font-weight="bold" text-anchor="middle" fill="#111" font-family="'Liberation Sans',sans-serif"  stroke="#111" stroke-width="0.22">56%</text>
<text x="323.20" y="301.20" font-size="10.5" font-weight="bold" text-anchor="middle" fill="#111" font-family="'Liberation Sans',sans-serif"  stroke="#111" stroke-width="0.22">44%</text>
<text x="402.00" y="301.20" font-size="10.5" font-weight="bold" text-anchor="middle" fill="#111" font-family="'Liberation Sans',sans-serif"  stroke="#111" stroke-width="0.22">~100%</text>
<text x="500.60" y="301.20" font-size="10.5" font-weight="bold" text-anchor="middle" fill="#111" font-family="'Liberation Sans',sans-serif"  stroke="#111" stroke-width="0.22">~100%</text>
<text x="591.70" y="301.20" font-size="10.5" font-weight="bold" text-anchor="middle" fill="#111" font-family="'Liberation Sans',sans-serif"  stroke="#111" stroke-width="0.22">~100%</text>
<text x="105.30" y="363.30" font-size="10.8" font-weight="bold" text-anchor="middle" fill="#111" font-family="'Liberation Sans',sans-serif"  stroke="#111" stroke-width="0.22">0.02Pt</text>
<text x="186.30" y="363.30" font-size="10.8" font-weight="bold" text-anchor="middle" fill="#111" font-family="'Liberation Sans',sans-serif"  stroke="#111" stroke-width="0.22">0.05Pt</text>
<text x="298.90" y="363.30" font-size="10.8" font-weight="bold" text-anchor="middle" fill="#111" font-family="'Liberation Sans',sans-serif"  stroke="#111" stroke-width="0.22">0.15Pt</text>
<text x="402.00" y="363.30" font-size="10.8" font-weight="bold" text-anchor="middle" fill="#111" font-family="'Liberation Sans',sans-serif"  stroke="#111" stroke-width="0.22">0.375Pt</text>
<text x="499.70" y="363.30" font-size="10.8" font-weight="bold" text-anchor="middle" fill="#111" font-family="'Liberation Sans',sans-serif"  stroke="#111" stroke-width="0.22">1Pt</text>
<text x="592.00" y="363.30" font-size="10.8" font-weight="bold" text-anchor="middle" fill="#111" font-family="'Liberation Sans',sans-serif"  stroke="#111" stroke-width="0.22">3Pt</text>
<ellipse cx="102.3" cy="338.6" rx="6.4" ry="4.6" fill="url(#gY)"/>
<ellipse cx="168.0" cy="338.6" rx="6.4" ry="4.6" fill="url(#gY)"/>
<circle cx="201.90" cy="331.60" r="5.0" fill="url(#gCG)"/>
<circle cx="193.50" cy="339.60" r="4.7" fill="url(#gCG)"/>
<circle cx="210.40" cy="339.60" r="4.7" fill="url(#gCG)"/>
<circle cx="201.90" cy="340.20" r="4.7" fill="url(#gCG)"/>
<circle cx="273.20" cy="328.60" r="4.8" fill="url(#gCG)"/>
<circle cx="281.80" cy="328.60" r="4.8" fill="url(#gCG)"/>
<circle cx="268.80" cy="337.60" r="4.8" fill="url(#gCG)"/>
<circle cx="285.40" cy="337.60" r="4.8" fill="url(#gCG)"/>
<circle cx="277.10" cy="338.00" r="4.8" fill="url(#gCG)"/>
<ellipse cx="319.90" cy="331.10" rx="12.50" ry="9.50" fill="#3f76b8"/>
<circle cx="314.20" cy="320.90" r="5.10" fill="url(#gCB)"/>
<circle cx="324.00" cy="320.90" r="5.10" fill="url(#gCB)"/>
<circle cx="306.40" cy="327.80" r="5.10" fill="url(#gCB)"/>
<circle cx="330.60" cy="326.90" r="5.10" fill="url(#gCB)"/>
<circle cx="319.90" cy="326.90" r="5.10" fill="url(#gCB)"/>
<circle cx="312.20" cy="329.80" r="5.10" fill="url(#gCB)"/>
<circle cx="326.60" cy="329.80" r="5.10" fill="url(#gCB)"/>
<circle cx="311.60" cy="337.60" r="5.10" fill="url(#gCB)"/>
<circle cx="330.00" cy="336.20" r="5.10" fill="url(#gCB)"/>
<circle cx="320.80" cy="337.30" r="5.10" fill="url(#gCB)"/>
<ellipse cx="401.10" cy="331.70" rx="12.50" ry="9.50" fill="#3f76b8"/>
<circle cx="395.40" cy="321.50" r="5.10" fill="url(#gCB)"/>
<circle cx="405.20" cy="321.50" r="5.10" fill="url(#gCB)"/>
<circle cx="387.60" cy="328.40" r="5.10" fill="url(#gCB)"/>
<circle cx="411.80" cy="327.50" r="5.10" fill="url(#gCB)"/>
<circle cx="401.10" cy="327.50" r="5.10" fill="url(#gCB)"/>
<circle cx="393.40" cy="330.40" r="5.10" fill="url(#gCB)"/>
<circle cx="407.80" cy="330.40" r="5.10" fill="url(#gCB)"/>
<circle cx="392.80" cy="338.20" r="5.10" fill="url(#gCB)"/>
<circle cx="411.20" cy="336.80" r="5.10" fill="url(#gCB)"/>
<circle cx="402.00" cy="337.90" r="5.10" fill="url(#gCB)"/>
<circle cx="497.80" cy="326.60" r="12.8" fill="#3a6eb2"/>
<circle cx="496.16" cy="324.18" r="5.0" fill="url(#gCB)"/>
<circle cx="499.86" cy="332.19" r="5.0" fill="url(#gCB)"/>
<circle cx="490.54" cy="329.71" r="5.0" fill="url(#gCB)"/>
<circle cx="503.05" cy="320.23" r="5.0" fill="url(#gCB)"/>
<circle cx="506.39" cy="328.00" r="5.0" fill="url(#gCB)"/>
<circle cx="492.57" cy="317.95" r="5.0" fill="url(#gCB)"/>
<circle cx="486.79" cy="323.40" r="5.0" fill="url(#gCB)"/>
<circle cx="503.03" cy="336.80" r="5.0" fill="url(#gCB)"/>
<circle cx="490.85" cy="335.99" r="5.0" fill="url(#gCB)"/>
<circle cx="498.23" cy="324.35" r="5.0" fill="url(#gCB)"/>
<circle cx="498.44" cy="314.41" r="5.0" fill="url(#gCB)"/>
<circle cx="506.38" cy="317.56" r="5.0" fill="url(#gCB)"/>
<circle cx="500.13" cy="330.14" r="5.0" fill="url(#gCB)"/>
<circle cx="510.29" cy="325.35" r="5.0" fill="url(#gCB)"/>
<circle cx="493.54" cy="328.77" r="5.0" fill="url(#gCB)"/>
<circle cx="496.49" cy="339.32" r="5.0" fill="url(#gCB)"/>
<circle cx="508.51" cy="333.58" r="5.0" fill="url(#gCB)"/>
<circle cx="485.42" cy="329.81" r="5.0" fill="url(#gCB)"/>
<circle cx="488.54" cy="317.82" r="5.0" fill="url(#gCB)"/>
<circle cx="500.56" cy="322.62" r="5.0" fill="url(#gCB)"/>
<circle cx="489.45" cy="335.74" r="5.0" fill="url(#gCB)"/>
<circle cx="500.80" cy="328.55" r="5.0" fill="url(#gCB)"/>
<circle cx="494.61" cy="325.08" r="5.0" fill="url(#gCB)"/>
<circle cx="501.19" cy="314.81" r="5.0" fill="url(#gCB)"/>
<circle cx="502.01" cy="337.94" r="5.0" fill="url(#gCB)"/>
<circle cx="508.86" cy="322.99" r="5.0" fill="url(#gCB)"/>
<circle cx="486.60" cy="324.04" r="5.0" fill="url(#gCB)"/>
<circle cx="507.43" cy="331.18" r="5.0" fill="url(#gCB)"/>
<circle cx="493.55" cy="316.83" r="5.0" fill="url(#gCB)"/>
<circle cx="502.95" cy="319.41" r="5.0" fill="url(#gCB)"/>
<circle cx="497.26" cy="334.88" r="5.0" fill="url(#gCB)"/>
<circle cx="490.44" cy="330.13" r="5.0" fill="url(#gCB)"/>
<circle cx="494.99" cy="323.13" r="5.0" fill="url(#gCB)"/>
<circle cx="501.57" cy="327.97" r="5.0" fill="url(#gCB)"/>
<circle cx="589.30" cy="323.30" r="16.0" fill="#3a6eb2"/>
<circle cx="592.76" cy="321.53" r="5.2" fill="url(#gCB)"/>
<circle cx="584.40" cy="325.65" r="5.2" fill="url(#gCB)"/>
<circle cx="587.30" cy="315.69" r="5.2" fill="url(#gCB)"/>
<circle cx="596.38" cy="328.56" r="5.2" fill="url(#gCB)"/>
<circle cx="589.34" cy="332.74" r="5.2" fill="url(#gCB)"/>
<circle cx="579.05" cy="320.22" r="5.2" fill="url(#gCB)"/>
<circle cx="600.61" cy="319.05" r="5.2" fill="url(#gCB)"/>
<circle cx="579.97" cy="331.07" r="5.2" fill="url(#gCB)"/>
<circle cx="595.27" cy="312.82" r="5.2" fill="url(#gCB)"/>
<circle cx="583.54" cy="311.11" r="5.2" fill="url(#gCB)"/>
<circle cx="603.04" cy="326.24" r="5.2" fill="url(#gCB)"/>
<circle cx="586.11" cy="325.20" r="5.2" fill="url(#gCB)"/>
<circle cx="592.13" cy="336.85" r="5.2" fill="url(#gCB)"/>
<circle cx="574.64" cy="325.98" r="5.2" fill="url(#gCB)"/>
<circle cx="589.91" cy="317.73" r="5.2" fill="url(#gCB)"/>
<circle cx="576.47" cy="315.77" r="5.2" fill="url(#gCB)"/>
<circle cx="583.25" cy="336.57" r="5.2" fill="url(#gCB)"/>
<circle cx="596.02" cy="322.83" r="5.2" fill="url(#gCB)"/>
<circle cx="600.28" cy="333.57" r="5.2" fill="url(#gCB)"/>
<circle cx="589.98" cy="308.43" r="5.2" fill="url(#gCB)"/>
<circle cx="598.60" cy="311.11" r="5.2" fill="url(#gCB)"/>
<circle cx="604.08" cy="317.67" r="5.2" fill="url(#gCB)"/>
<circle cx="581.46" cy="322.18" r="5.2" fill="url(#gCB)"/>
<circle cx="586.08" cy="330.21" r="5.2" fill="url(#gCB)"/>
<circle cx="594.67" cy="328.93" r="5.2" fill="url(#gCB)"/>
<circle cx="576.13" cy="331.90" r="5.2" fill="url(#gCB)"/>
<circle cx="573.44" cy="321.67" r="5.2" fill="url(#gCB)"/>
<circle cx="594.50" cy="337.62" r="5.2" fill="url(#gCB)"/>
<circle cx="605.11" cy="324.99" r="5.2" fill="url(#gCB)"/>
<circle cx="579.34" cy="311.55" r="5.2" fill="url(#gCB)"/>
<circle cx="592.79" cy="316.77" r="5.2" fill="url(#gCB)"/>
<circle cx="582.43" cy="336.64" r="5.2" fill="url(#gCB)"/>
<circle cx="601.76" cy="332.04" r="5.2" fill="url(#gCB)"/>
<circle cx="592.86" cy="309.14" r="5.2" fill="url(#gCB)"/>
<circle cx="585.09" cy="319.30" r="5.2" fill="url(#gCB)"/>
<circle cx="587.32" cy="327.55" r="5.2" fill="url(#gCB)"/>
<circle cx="593.94" cy="322.82" r="5.2" fill="url(#gCB)"/>
<circle cx="601.60" cy="316.21" r="5.2" fill="url(#gCB)"/>
<circle cx="576.71" cy="317.14" r="5.2" fill="url(#gCB)"/>
<circle cx="576.27" cy="327.66" r="5.2" fill="url(#gCB)"/>
<circle cx="584.82" cy="311.02" r="5.2" fill="url(#gCB)"/>
<circle cx="591.42" cy="335.83" r="5.2" fill="url(#gCB)"/>
<circle cx="601.35" cy="323.61" r="5.2" fill="url(#gCB)"/>
<circle cx="594.80" cy="313.33" r="5.2" fill="url(#gCB)"/>
<circle cx="583.57" cy="332.59" r="5.2" fill="url(#gCB)"/>
<circle cx="597.05" cy="330.36" r="5.2" fill="url(#gCB)"/>
<circle cx="580.45" cy="322.84" r="5.2" fill="url(#gCB)"/>
<circle cx="586.24" cy="316.70" r="5.2" fill="url(#gCB)"/>
<circle cx="593.63" cy="321.01" r="5.2" fill="url(#gCB)"/>
<circle cx="588.56" cy="327.42" r="5.2" fill="url(#gCB)"/>
<line x1="57.60" y1="420.60" x2="273.40" y2="420.60" stroke="#4a4a4a" stroke-width="1.15" />
<line x1="273.40" y1="420.60" x2="273.40" y2="578.40" stroke="#9a9a9a" stroke-width="1.15" />
<line x1="57.60" y1="420.60" x2="57.60" y2="578.40" stroke="#4a4a4a" stroke-width="1.15" />
<line x1="57.60" y1="578.40" x2="273.40" y2="578.40" stroke="#4a4a4a" stroke-width="1.15" />
<line x1="57.60" y1="570.00" x2="54.60" y2="570.00" stroke="#555" stroke-width="0.8" />
<text x="52.40" y="572.90" font-size="8.3" font-weight="bold" text-anchor="end" fill="#111" font-family="'Liberation Sans',sans-serif"  stroke="#111" stroke-width="0.22">0</text>
<line x1="57.60" y1="547.90" x2="55.60" y2="547.90" stroke="#555" stroke-width="0.8" />
<line x1="57.60" y1="525.80" x2="54.60" y2="525.80" stroke="#555" stroke-width="0.8" />
<text x="52.40" y="528.70" font-size="8.3" font-weight="bold" text-anchor="end" fill="#111" font-family="'Liberation Sans',sans-serif"  stroke="#111" stroke-width="0.22">500</text>
<line x1="57.60" y1="503.70" x2="55.60" y2="503.70" stroke="#555" stroke-width="0.8" />
<line x1="57.60" y1="481.60" x2="54.60" y2="481.60" stroke="#555" stroke-width="0.8" />
<text x="52.40" y="484.50" font-size="8.3" font-weight="bold" text-anchor="end" fill="#111" font-family="'Liberation Sans',sans-serif"  stroke="#111" stroke-width="0.22">1000</text>
<line x1="57.60" y1="459.50" x2="55.60" y2="459.50" stroke="#555" stroke-width="0.8" />
<line x1="57.60" y1="437.40" x2="54.60" y2="437.40" stroke="#555" stroke-width="0.8" />
<text x="52.40" y="440.30" font-size="8.3" font-weight="bold" text-anchor="end" fill="#111" font-family="'Liberation Sans',sans-serif"  stroke="#111" stroke-width="0.22">1500</text>
<line x1="71.20" y1="578.40" x2="71.20" y2="580.90" stroke="#555" stroke-width="0.8" />
<text x="71.20" y="590.30" font-size="8.2" font-weight="bold" text-anchor="middle" fill="#111" font-family="'Liberation Sans',sans-serif"  stroke="#111" stroke-width="0.22">0</text>
<line x1="98.05" y1="578.40" x2="98.05" y2="580.90" stroke="#555" stroke-width="0.8" />
<text x="98.05" y="590.30" font-size="8.2" font-weight="bold" text-anchor="middle" fill="#111" font-family="'Liberation Sans',sans-serif"  stroke="#111" stroke-width="0.22">1</text>
<line x1="124.90" y1="578.40" x2="124.90" y2="580.90" stroke="#555" stroke-width="0.8" />
<text x="124.90" y="590.30" font-size="8.2" font-weight="bold" text-anchor="middle" fill="#111" font-family="'Liberation Sans',sans-serif"  stroke="#111" stroke-width="0.22">2</text>
<line x1="151.75" y1="578.40" x2="151.75" y2="580.90" stroke="#555" stroke-width="0.8" />
<text x="151.75" y="590.30" font-size="8.2" font-weight="bold" text-anchor="middle" fill="#111" font-family="'Liberation Sans',sans-serif"  stroke="#111" stroke-width="0.22">3</text>
<line x1="178.60" y1="578.40" x2="178.60" y2="580.90" stroke="#555" stroke-width="0.8" />
<text x="178.60" y="590.30" font-size="8.2" font-weight="bold" text-anchor="middle" fill="#111" font-family="'Liberation Sans',sans-serif"  stroke="#111" stroke-width="0.22">4</text>
<line x1="205.45" y1="578.40" x2="205.45" y2="580.90" stroke="#555" stroke-width="0.8" />
<text x="205.45" y="590.30" font-size="8.2" font-weight="bold" text-anchor="middle" fill="#111" font-family="'Liberation Sans',sans-serif"  stroke="#111" stroke-width="0.22">5</text>
<line x1="232.30" y1="578.40" x2="232.30" y2="580.90" stroke="#555" stroke-width="0.8" />
<text x="232.30" y="590.30" font-size="8.2" font-weight="bold" text-anchor="middle" fill="#111" font-family="'Liberation Sans',sans-serif"  stroke="#111" stroke-width="0.22">6</text>
<line x1="259.15" y1="578.40" x2="259.15" y2="580.90" stroke="#555" stroke-width="0.8" />
<text x="259.15" y="590.30" font-size="8.2" font-weight="bold" text-anchor="middle" fill="#111" font-family="'Liberation Sans',sans-serif"  stroke="#111" stroke-width="0.22">7</text>
<text x="150.8" y="604.3" font-size="9.6" font-weight="bold" fill="#111" font-family="'Liberation Sans',sans-serif" stroke="#111" stroke-width="0.22">CN<tspan font-size="6.4" dy="1.8">Pt-Pt</tspan></text>
<text transform="translate(22.4,504.8) rotate(-90)" x="0" y="0" font-size="9.6" font-weight="bold" text-anchor="middle" fill="#111" font-family="'Liberation Sans',sans-serif" stroke="#111" stroke-width="0.22">TOF (min<tspan font-size="6" dy="-3">-1</tspan><tspan dy="3">)</tspan></text>
<path d="M138.3,437.2 L197.4,470.5 L259.6,498 L259.6,515 L197.4,486.4 L138.3,444.5 Z" fill="#b4d8fa" opacity="0.9"/>
<path d="M138.3,513.5 L197.4,500.2 L259.2,518.5 L259.2,526 L197.4,509.2 L138.3,517.2 Z" fill="#c6f0bc" opacity="0.9"/>
<circle cx="143.70" cy="461.60" r="5.1" fill="url(#gCGd)"/>
<circle cx="135.80" cy="469.00" r="5.0" fill="url(#gCGd)"/>
<circle cx="151.40" cy="469.00" r="5.0" fill="url(#gCGd)"/>
<circle cx="143.50" cy="469.60" r="5.0" fill="url(#gCGd)"/>
<circle cx="193.20" cy="524.20" r="5.0" fill="url(#gCGd)"/>
<circle cx="201.60" cy="524.20" r="5.0" fill="url(#gCGd)"/>
<circle cx="188.80" cy="532.20" r="5.0" fill="url(#gCGd)"/>
<circle cx="204.60" cy="532.20" r="5.0" fill="url(#gCGd)"/>
<circle cx="196.80" cy="532.80" r="5.0" fill="url(#gCGd)"/>
<ellipse cx="238.49" cy="545.67" rx="12.25" ry="9.31" fill="#3f76b8"/>
<circle cx="232.90" cy="535.67" r="5.00" fill="url(#gCB)"/>
<circle cx="242.51" cy="535.67" r="5.00" fill="url(#gCB)"/>
<circle cx="225.26" cy="542.44" r="5.00" fill="url(#gCB)"/>
<circle cx="248.98" cy="541.55" r="5.00" fill="url(#gCB)"/>
<circle cx="238.49" cy="541.55" r="5.00" fill="url(#gCB)"/>
<circle cx="230.94" cy="544.40" r="5.00" fill="url(#gCB)"/>
<circle cx="245.06" cy="544.40" r="5.00" fill="url(#gCB)"/>
<circle cx="230.36" cy="552.04" r="5.00" fill="url(#gCB)"/>
<circle cx="248.39" cy="550.67" r="5.00" fill="url(#gCB)"/>
<circle cx="239.37" cy="551.75" r="5.00" fill="url(#gCB)"/>
<circle cx="95.5" cy="554.3" r="5.2" fill="url(#gY)"/>
<path d="M71.2,568.5 L138.3,564.6 L197.4,564.6 L259.2,563.9" fill="none" stroke="#ee8c8c" stroke-width="1.6" stroke-linejoin="round"/>
<path d="M71.2,561.7 L138.3,515.3 L197.4,504.8 L259.2,522.1" fill="none" stroke="#8ee07e" stroke-width="1.6" stroke-linejoin="round"/>
<path d="M71.2,556.6 L138.3,440.0 L197.4,477.4 L259.6,506.3" fill="none" stroke="#6cb0f5" stroke-width="1.6" stroke-linejoin="round"/>
<line x1="121.20" y1="440.00" x2="155.50" y2="440.00" stroke="#6cb0f5" stroke-width="1.2" />
<line x1="121.20" y1="438.00" x2="121.20" y2="442.00" stroke="#6cb0f5" stroke-width="1.2" />
<line x1="155.50" y1="438.00" x2="155.50" y2="442.00" stroke="#6cb0f5" stroke-width="1.2" />
<line x1="184.30" y1="477.40" x2="211.00" y2="477.40" stroke="#6cb0f5" stroke-width="1.2" />
<line x1="184.30" y1="475.40" x2="184.30" y2="479.40" stroke="#6cb0f5" stroke-width="1.2" />
<line x1="211.00" y1="475.40" x2="211.00" y2="479.40" stroke="#6cb0f5" stroke-width="1.2" />
<line x1="121.20" y1="515.30" x2="155.50" y2="515.30" stroke="#8ee07e" stroke-width="1.2" />
<line x1="121.20" y1="513.30" x2="121.20" y2="517.30" stroke="#8ee07e" stroke-width="1.2" />
<line x1="155.50" y1="513.30" x2="155.50" y2="517.30" stroke="#8ee07e" stroke-width="1.2" />
<line x1="184.30" y1="504.80" x2="211.00" y2="504.80" stroke="#8ee07e" stroke-width="1.2" />
<line x1="184.30" y1="502.80" x2="184.30" y2="506.80" stroke="#8ee07e" stroke-width="1.2" />
<line x1="211.00" y1="502.80" x2="211.00" y2="506.80" stroke="#8ee07e" stroke-width="1.2" />
<line x1="121.20" y1="564.60" x2="155.50" y2="564.60" stroke="#ee8c8c" stroke-width="1.2" />
<line x1="121.20" y1="562.60" x2="121.20" y2="566.60" stroke="#ee8c8c" stroke-width="1.2" />
<line x1="155.50" y1="562.60" x2="155.50" y2="566.60" stroke="#ee8c8c" stroke-width="1.2" />
<line x1="184.30" y1="564.60" x2="211.00" y2="564.60" stroke="#ee8c8c" stroke-width="1.2" />
<line x1="184.30" y1="562.60" x2="184.30" y2="566.60" stroke="#ee8c8c" stroke-width="1.2" />
<line x1="211.00" y1="562.60" x2="211.00" y2="566.60" stroke="#ee8c8c" stroke-width="1.2" />
<path d="M137.4,440.0 L137.4,423.1 L139.4,423.1 Q144.4,425.6 152.6,428.4 Q144.4,429.6 139.4,432.1 L139.4,440.0 Z" fill="#6cb0f5"/>
<path d="M196.4,504.8 L196.4,486.4 L198.4,486.4 Q203.4,488.9 210.4,491.7 Q203.4,492.9 198.4,495.4 L198.4,504.8 Z" fill="#8ee07e"/>
<path d="M258.2,563.9 L258.2,546.0 L260.2,546.0 Q265.2,548.5 272.8,551.3 Q265.2,552.5 260.2,555.0 L260.2,563.9 Z" fill="#ee8c8c"/>
<circle cx="71.2" cy="568.5" r="4.1" fill="#ee8c8c"/>
<circle cx="138.3" cy="564.6" r="4.1" fill="#ee8c8c"/>
<circle cx="197.4" cy="564.6" r="4.1" fill="#ee8c8c"/>
<circle cx="259.2" cy="563.9" r="4.1" fill="#ee8c8c"/>
<circle cx="71.2" cy="561.7" r="4.1" fill="#8ee07e"/>
<circle cx="138.3" cy="515.3" r="4.1" fill="#8ee07e"/>
<circle cx="197.4" cy="504.8" r="4.1" fill="#8ee07e"/>
<circle cx="259.2" cy="522.1" r="4.1" fill="#8ee07e"/>
<circle cx="71.2" cy="556.6" r="4.1" fill="#6cb0f5"/>
<circle cx="138.3" cy="440.0" r="4.1" fill="#6cb0f5"/>
<circle cx="197.4" cy="477.4" r="4.1" fill="#6cb0f5"/>
<circle cx="259.6" cy="506.3" r="4.1" fill="#6cb0f5"/>
<line x1="213.20" y1="431.90" x2="217.60" y2="431.90" stroke="#6cb0f5" stroke-width="1.4" />
<line x1="228.40" y1="431.90" x2="232.90" y2="431.90" stroke="#6cb0f5" stroke-width="1.4" />
<circle cx="223" cy="431.9" r="4.1" fill="#6cb0f5"/>
<text x="236.9" y="435.7" font-size="10.5" font-weight="bold" fill="#111" font-family="'Liberation Sans',sans-serif" stroke="#111" stroke-width="0.22">C<tspan font-size="7" dy="2">6</tspan><tspan dy="-2">H</tspan><tspan font-size="7" dy="2">12</tspan></text>
<line x1="213.20" y1="452.00" x2="217.60" y2="452.00" stroke="#8ee07e" stroke-width="1.4" />
<line x1="228.40" y1="452.00" x2="232.90" y2="452.00" stroke="#8ee07e" stroke-width="1.4" />
<circle cx="223" cy="452.0" r="4.1" fill="#8ee07e"/>
<text x="236.9" y="455.8" font-size="10.5" font-weight="bold" fill="#111" font-family="'Liberation Sans',sans-serif" stroke="#111" stroke-width="0.22">C<tspan font-size="7" dy="2">7</tspan><tspan dy="-2">H</tspan><tspan font-size="7" dy="2">14</tspan></text>
<line x1="213.20" y1="472.40" x2="217.60" y2="472.40" stroke="#ee8c8c" stroke-width="1.4" />
<line x1="228.40" y1="472.40" x2="232.90" y2="472.40" stroke="#ee8c8c" stroke-width="1.4" />
<circle cx="223" cy="472.4" r="4.1" fill="#ee8c8c"/>
<text x="236.9" y="476.2" font-size="10.5" font-weight="bold" fill="#111" font-family="'Liberation Sans',sans-serif" stroke="#111" stroke-width="0.22">C<tspan font-size="7" dy="2">10</tspan><tspan dy="-2">H</tspan><tspan font-size="7" dy="2">18</tspan></text>
<line x1="344.20" y1="421.50" x2="636.80" y2="421.50" stroke="#4a4a4a" stroke-width="1.15" />
<line x1="636.80" y1="421.50" x2="636.80" y2="578.30" stroke="#4a4a4a" stroke-width="1.15" />
<line x1="344.20" y1="421.50" x2="344.20" y2="578.30" stroke="#4a4a4a" stroke-width="1.15" />
<line x1="344.20" y1="578.30" x2="636.80" y2="578.30" stroke="#4a4a4a" stroke-width="1.15" />
<line x1="344.20" y1="570.25" x2="342.20" y2="570.25" stroke="#555" stroke-width="0.8" />
<line x1="344.20" y1="555.40" x2="341.20" y2="555.40" stroke="#555" stroke-width="0.8" />
<text x="339.20" y="558.20" font-size="8" font-weight="bold" text-anchor="end" fill="#111" font-family="'Liberation Sans',sans-serif"  stroke="#111" stroke-width="0.22">20</text>
<line x1="344.20" y1="540.55" x2="342.20" y2="540.55" stroke="#555" stroke-width="0.8" />
<line x1="344.20" y1="525.70" x2="341.20" y2="525.70" stroke="#555" stroke-width="0.8" />
<text x="339.20" y="528.50" font-size="8" font-weight="bold" text-anchor="end" fill="#111" font-family="'Liberation Sans',sans-serif"  stroke="#111" stroke-width="0.22">40</text>
<line x1="344.20" y1="510.85" x2="342.20" y2="510.85" stroke="#555" stroke-width="0.8" />
<line x1="344.20" y1="496.00" x2="341.20" y2="496.00" stroke="#555" stroke-width="0.8" />
<text x="339.20" y="498.80" font-size="8" font-weight="bold" text-anchor="end" fill="#111" font-family="'Liberation Sans',sans-serif"  stroke="#111" stroke-width="0.22">60</text>
<line x1="344.20" y1="481.15" x2="342.20" y2="481.15" stroke="#555" stroke-width="0.8" />
<line x1="344.20" y1="466.30" x2="341.20" y2="466.30" stroke="#555" stroke-width="0.8" />
<text x="339.20" y="469.10" font-size="8" font-weight="bold" text-anchor="end" fill="#111" font-family="'Liberation Sans',sans-serif"  stroke="#111" stroke-width="0.22">80</text>
<line x1="344.20" y1="451.45" x2="342.20" y2="451.45" stroke="#555" stroke-width="0.8" />
<line x1="344.20" y1="436.60" x2="341.20" y2="436.60" stroke="#555" stroke-width="0.8" />
<text x="339.20" y="439.40" font-size="8" font-weight="bold" text-anchor="end" fill="#111" font-family="'Liberation Sans',sans-serif"  stroke="#111" stroke-width="0.22">100</text>
<line x1="636.80" y1="578.30" x2="633.80" y2="578.30" stroke="#444" stroke-width="0.9" />
<text x="640.80" y="581.10" font-size="8" font-weight="bold" text-anchor="start" fill="#111" font-family="'Liberation Sans',sans-serif"  stroke="#111" stroke-width="0.22">1000</text>
<line x1="636.80" y1="558.55" x2="634.60" y2="558.55" stroke="#444" stroke-width="0.9" />
<line x1="636.80" y1="538.80" x2="633.80" y2="538.80" stroke="#444" stroke-width="0.9" />
<text x="640.80" y="541.60" font-size="8" font-weight="bold" text-anchor="start" fill="#111" font-family="'Liberation Sans',sans-serif"  stroke="#111" stroke-width="0.22">2000</text>
<line x1="636.80" y1="519.05" x2="634.60" y2="519.05" stroke="#444" stroke-width="0.9" />
<line x1="636.80" y1="499.30" x2="633.80" y2="499.30" stroke="#444" stroke-width="0.9" />
<text x="640.80" y="502.10" font-size="8" font-weight="bold" text-anchor="start" fill="#111" font-family="'Liberation Sans',sans-serif"  stroke="#111" stroke-width="0.22">3000</text>
<line x1="636.80" y1="479.55" x2="634.60" y2="479.55" stroke="#444" stroke-width="0.9" />
<line x1="636.80" y1="459.80" x2="633.80" y2="459.80" stroke="#444" stroke-width="0.9" />
<text x="640.80" y="462.60" font-size="8" font-weight="bold" text-anchor="start" fill="#111" font-family="'Liberation Sans',sans-serif"  stroke="#111" stroke-width="0.22">4000</text>
<line x1="636.80" y1="440.05" x2="634.60" y2="440.05" stroke="#444" stroke-width="0.9" />
<line x1="636.80" y1="420.30" x2="633.80" y2="420.30" stroke="#444" stroke-width="0.9" />
<text x="640.80" y="423.10" font-size="8" font-weight="bold" text-anchor="start" fill="#111" font-family="'Liberation Sans',sans-serif"  stroke="#111" stroke-width="0.22">5000</text>
<line x1="344.20" y1="578.30" x2="344.20" y2="582.10" stroke="#444" stroke-width="0.9" />
<text x="344.20" y="592.40" font-size="8" font-weight="bold" text-anchor="middle" fill="#111" font-family="'Liberation Sans',sans-serif"  stroke="#111" stroke-width="0.22">0</text>
<line x1="373.45" y1="578.30" x2="373.45" y2="580.30" stroke="#444" stroke-width="0.9" />
<line x1="402.70" y1="578.30" x2="402.70" y2="582.10" stroke="#444" stroke-width="0.9" />
<text x="402.70" y="592.40" font-size="8" font-weight="bold" text-anchor="middle" fill="#111" font-family="'Liberation Sans',sans-serif"  stroke="#111" stroke-width="0.22">20</text>
<line x1="431.95" y1="578.30" x2="431.95" y2="580.30" stroke="#444" stroke-width="0.9" />
<line x1="461.20" y1="578.30" x2="461.20" y2="582.10" stroke="#444" stroke-width="0.9" />
<text x="461.20" y="592.40" font-size="8" font-weight="bold" text-anchor="middle" fill="#111" font-family="'Liberation Sans',sans-serif"  stroke="#111" stroke-width="0.22">40</text>
<line x1="490.45" y1="578.30" x2="490.45" y2="580.30" stroke="#444" stroke-width="0.9" />
<line x1="519.70" y1="578.30" x2="519.70" y2="582.10" stroke="#444" stroke-width="0.9" />
<text x="519.70" y="592.40" font-size="8" font-weight="bold" text-anchor="middle" fill="#111" font-family="'Liberation Sans',sans-serif"  stroke="#111" stroke-width="0.22">60</text>
<line x1="548.95" y1="578.30" x2="548.95" y2="580.30" stroke="#444" stroke-width="0.9" />
<line x1="578.20" y1="578.30" x2="578.20" y2="582.10" stroke="#444" stroke-width="0.9" />
<text x="578.20" y="592.40" font-size="8" font-weight="bold" text-anchor="middle" fill="#111" font-family="'Liberation Sans',sans-serif"  stroke="#111" stroke-width="0.22">80</text>
<line x1="607.45" y1="578.30" x2="607.45" y2="580.30" stroke="#444" stroke-width="0.9" />
<line x1="636.70" y1="578.30" x2="636.70" y2="582.10" stroke="#444" stroke-width="0.9" />
<text x="636.70" y="592.40" font-size="8" font-weight="bold" text-anchor="middle" fill="#111" font-family="'Liberation Sans',sans-serif"  stroke="#111" stroke-width="0.22">100</text>
<text x="491.60" y="604.30" font-size="9.6" font-weight="bold" text-anchor="middle" fill="#111" font-family="'Liberation Sans',sans-serif"  stroke="#111" stroke-width="0.22">Time (h)</text>
<text transform="translate(314.1,496.9) rotate(-90)" x="0" y="0" font-size="9.3" font-weight="bold" text-anchor="middle" fill="#111" font-family="'Liberation Sans',sans-serif" stroke="#111" stroke-width="0.22">Conversion (%)</text>
<text transform="translate(672.0,500.6) rotate(-90)" x="0" y="0" font-size="9.3" font-weight="bold" text-anchor="middle" fill="#111" font-family="'Liberation Sans',sans-serif" stroke="#111" stroke-width="0.22">H<tspan font-size="6.1" dy="2">2</tspan><tspan dy="-2"> evolution rate</tspan></text>
<text transform="translate(682.0,498.6) rotate(-90)" x="0" y="0" font-size="9.3" font-weight="bold" text-anchor="middle" fill="#111" font-family="'Liberation Sans',sans-serif" stroke="#111" stroke-width="0.22">(mmol g<tspan font-size="6.1" dy="2">Pt</tspan><tspan font-size="6.1" dy="-5">-1</tspan><tspan dy="3"> min</tspan><tspan font-size="6.1" dy="-3">-1</tspan><tspan dy="3">)</tspan></text>
<defs>
<radialGradient id="gEG" cx="0.42" cy="0.38" r="0.6"><stop offset="0" stop-color="#ffffff"/><stop offset="0.3" stop-color="#88d8a0"/><stop offset="1" stop-color="#52bd76"/></radialGradient>
<radialGradient id="gEB" cx="0.42" cy="0.4" r="0.6"><stop offset="0" stop-color="#ffffff"/><stop offset="0.22" stop-color="#bcd4f6"/><stop offset="0.42" stop-color="#5c94e6"/><stop offset="1" stop-color="#4a82dc"/></radialGradient>
</defs>
<circle cx="344.8" cy="554.5" r="3.4" fill="url(#gEB)"/>
<circle cx="349.9" cy="554.9" r="3.4" fill="url(#gEB)"/>
<circle cx="354.9" cy="555.2" r="3.4" fill="url(#gEB)"/>
<circle cx="359.7" cy="554.1" r="3.4" fill="url(#gEB)"/>
<circle cx="364.5" cy="555.2" r="3.4" fill="url(#gEB)"/>
<circle cx="369.1" cy="556.3" r="3.4" fill="url(#gEB)"/>
<circle cx="374.4" cy="553.4" r="3.4" fill="url(#gEB)"/>
<circle cx="379.4" cy="555.8" r="3.4" fill="url(#gEB)"/>
<circle cx="384.4" cy="554.1" r="3.4" fill="url(#gEB)"/>
<circle cx="388.8" cy="556.3" r="3.4" fill="url(#gEB)"/>
<circle cx="393.6" cy="555.2" r="3.4" fill="url(#gEB)"/>
<circle cx="398.7" cy="553.4" r="3.4" fill="url(#gEB)"/>
<circle cx="403.5" cy="556.3" r="3.4" fill="url(#gEB)"/>
<circle cx="408.3" cy="555.2" r="3.4" fill="url(#gEB)"/>
<circle cx="413.4" cy="554.5" r="3.4" fill="url(#gEB)"/>
<circle cx="418.2" cy="553.6" r="3.4" fill="url(#gEB)"/>
<circle cx="422.8" cy="554.1" r="3.4" fill="url(#gEB)"/>
<circle cx="427.6" cy="555.6" r="3.4" fill="url(#gEB)"/>
<circle cx="432.4" cy="556.7" r="3.4" fill="url(#gEB)"/>
<circle cx="437.4" cy="555.2" r="3.4" fill="url(#gEB)"/>
<circle cx="442.5" cy="556.3" r="3.4" fill="url(#gEB)"/>
<circle cx="447.3" cy="555.8" r="3.4" fill="url(#gEB)"/>
<circle cx="452.3" cy="553.0" r="3.4" fill="url(#gEB)"/>
<circle cx="457.1" cy="556.3" r="3.4" fill="url(#gEB)"/>
<circle cx="462.0" cy="554.1" r="3.4" fill="url(#gEB)"/>
<circle cx="466.6" cy="554.5" r="3.4" fill="url(#gEB)"/>
<circle cx="471.4" cy="554.5" r="3.4" fill="url(#gEB)"/>
<circle cx="476.4" cy="554.5" r="3.4" fill="url(#gEB)"/>
<circle cx="481.2" cy="555.2" r="3.4" fill="url(#gEB)"/>
<circle cx="486.1" cy="556.6" r="3.4" fill="url(#gEB)"/>
<circle cx="491.3" cy="555.5" r="3.4" fill="url(#gEB)"/>
<circle cx="496.3" cy="554.8" r="3.4" fill="url(#gEB)"/>
<circle cx="501.3" cy="556.6" r="3.4" fill="url(#gEB)"/>
<circle cx="506.0" cy="557.7" r="3.4" fill="url(#gEB)"/>
<circle cx="511.0" cy="554.8" r="3.4" fill="url(#gEB)"/>
<circle cx="516.0" cy="556.2" r="3.4" fill="url(#gEB)"/>
<circle cx="520.8" cy="555.5" r="3.4" fill="url(#gEB)"/>
<circle cx="525.7" cy="555.5" r="3.4" fill="url(#gEB)"/>
<circle cx="530.3" cy="555.5" r="3.4" fill="url(#gEB)"/>
<circle cx="535.2" cy="554.4" r="3.4" fill="url(#gEB)"/>
<circle cx="540.0" cy="555.5" r="3.4" fill="url(#gEB)"/>
<circle cx="545.0" cy="556.2" r="3.4" fill="url(#gEB)"/>
<circle cx="550.0" cy="554.8" r="3.4" fill="url(#gEB)"/>
<circle cx="554.7" cy="556.2" r="3.4" fill="url(#gEB)"/>
<circle cx="559.7" cy="556.2" r="3.4" fill="url(#gEB)"/>
<circle cx="564.7" cy="555.5" r="3.4" fill="url(#gEB)"/>
<circle cx="569.4" cy="555.5" r="3.4" fill="url(#gEB)"/>
<circle cx="574.4" cy="554.8" r="3.4" fill="url(#gEB)"/>
<circle cx="579.4" cy="556.6" r="3.4" fill="url(#gEB)"/>
<circle cx="584.1" cy="557.1" r="3.4" fill="url(#gEB)"/>
<circle cx="589.1" cy="556.2" r="3.4" fill="url(#gEB)"/>
<circle cx="593.6" cy="555.5" r="3.4" fill="url(#gEB)"/>
<circle cx="598.6" cy="554.4" r="3.4" fill="url(#gEB)"/>
<circle cx="603.4" cy="556.2" r="3.4" fill="url(#gEB)"/>
<circle cx="608.3" cy="556.2" r="3.4" fill="url(#gEB)"/>
<circle cx="613.3" cy="556.2" r="3.4" fill="url(#gEB)"/>
<circle cx="618.1" cy="557.1" r="3.4" fill="url(#gEB)"/>
<circle cx="623.0" cy="557.7" r="3.4" fill="url(#gEB)"/>
<circle cx="628.0" cy="556.2" r="3.4" fill="url(#gEB)"/>
<circle cx="633.2" cy="554.4" r="3.4" fill="url(#gEB)"/>
<circle cx="345.3" cy="443.3" r="3.6" fill="url(#gEG)"/>
<circle cx="350.1" cy="444.3" r="3.6" fill="url(#gEG)"/>
<circle cx="354.9" cy="443.9" r="3.6" fill="url(#gEG)"/>
<circle cx="359.7" cy="440.7" r="3.6" fill="url(#gEG)"/>
<circle cx="364.5" cy="443.5" r="3.6" fill="url(#gEG)"/>
<circle cx="369.1" cy="446.1" r="3.6" fill="url(#gEG)"/>
<circle cx="374.4" cy="440.2" r="3.6" fill="url(#gEG)"/>
<circle cx="379.4" cy="445.0" r="3.6" fill="url(#gEG)"/>
<circle cx="384.4" cy="441.1" r="3.6" fill="url(#gEG)"/>
<circle cx="388.8" cy="446.1" r="3.6" fill="url(#gEG)"/>
<circle cx="393.6" cy="444.6" r="3.6" fill="url(#gEG)"/>
<circle cx="398.7" cy="440.2" r="3.6" fill="url(#gEG)"/>
<circle cx="403.5" cy="445.7" r="3.6" fill="url(#gEG)"/>
<circle cx="408.3" cy="443.5" r="3.6" fill="url(#gEG)"/>
<circle cx="413.4" cy="442.4" r="3.6" fill="url(#gEG)"/>
<circle cx="418.2" cy="441.1" r="3.6" fill="url(#gEG)"/>
<circle cx="422.8" cy="440.7" r="3.6" fill="url(#gEG)"/>
<circle cx="427.6" cy="444.4" r="3.6" fill="url(#gEG)"/>
<circle cx="432.4" cy="447.2" r="3.6" fill="url(#gEG)"/>
<circle cx="437.4" cy="445.5" r="3.6" fill="url(#gEG)"/>
<circle cx="442.5" cy="447.2" r="3.6" fill="url(#gEG)"/>
<circle cx="447.3" cy="445.7" r="3.6" fill="url(#gEG)"/>
<circle cx="452.3" cy="439.6" r="3.6" fill="url(#gEG)"/>
<circle cx="457.1" cy="446.1" r="3.6" fill="url(#gEG)"/>
<circle cx="462.0" cy="440.7" r="3.6" fill="url(#gEG)"/>
<circle cx="466.6" cy="443.5" r="3.6" fill="url(#gEG)"/>
<circle cx="471.4" cy="441.7" r="3.6" fill="url(#gEG)"/>
<circle cx="476.4" cy="442.4" r="3.6" fill="url(#gEG)"/>
<circle cx="481.2" cy="443.9" r="3.6" fill="url(#gEG)"/>
<circle cx="486.1" cy="447.8" r="3.6" fill="url(#gEG)"/>
<circle cx="491.3" cy="444.8" r="3.6" fill="url(#gEG)"/>
<circle cx="496.3" cy="443.2" r="3.6" fill="url(#gEG)"/>
<circle cx="501.3" cy="447.1" r="3.6" fill="url(#gEG)"/>
<circle cx="506.0" cy="448.9" r="3.6" fill="url(#gEG)"/>
<circle cx="511.0" cy="443.7" r="3.6" fill="url(#gEG)"/>
<circle cx="516.0" cy="447.8" r="3.6" fill="url(#gEG)"/>
<circle cx="520.8" cy="446.0" r="3.6" fill="url(#gEG)"/>
<circle cx="525.7" cy="446.0" r="3.6" fill="url(#gEG)"/>
<circle cx="530.3" cy="447.1" r="3.6" fill="url(#gEG)"/>
<circle cx="535.2" cy="443.2" r="3.6" fill="url(#gEG)"/>
<circle cx="540.0" cy="446.6" r="3.6" fill="url(#gEG)"/>
<circle cx="545.0" cy="447.8" r="3.6" fill="url(#gEG)"/>
<circle cx="550.0" cy="444.4" r="3.6" fill="url(#gEG)"/>
<circle cx="554.7" cy="447.1" r="3.6" fill="url(#gEG)"/>
<circle cx="559.7" cy="447.8" r="3.6" fill="url(#gEG)"/>
<circle cx="564.7" cy="446.2" r="3.6" fill="url(#gEG)"/>
<circle cx="569.4" cy="447.1" r="3.6" fill="url(#gEG)"/>
<circle cx="574.4" cy="444.8" r="3.6" fill="url(#gEG)"/>
<circle cx="579.4" cy="448.5" r="3.6" fill="url(#gEG)"/>
<circle cx="584.1" cy="448.9" r="3.6" fill="url(#gEG)"/>
<circle cx="589.1" cy="446.0" r="3.6" fill="url(#gEG)"/>
<circle cx="593.6" cy="447.8" r="3.6" fill="url(#gEG)"/>
<circle cx="598.6" cy="443.2" r="3.6" fill="url(#gEG)"/>
<circle cx="603.4" cy="447.8" r="3.6" fill="url(#gEG)"/>
<circle cx="608.3" cy="447.1" r="3.6" fill="url(#gEG)"/>
<circle cx="613.3" cy="447.1" r="3.6" fill="url(#gEG)"/>
<circle cx="618.1" cy="446.0" r="3.6" fill="url(#gEG)"/>
<circle cx="623.0" cy="450.0" r="3.6" fill="url(#gEG)"/>
<circle cx="628.0" cy="447.1" r="3.6" fill="url(#gEG)"/>
<circle cx="633.2" cy="443.2" r="3.6" fill="url(#gEG)"/>
<path d="M376.6,448.6 Q373,458.0 355.8,459.4 L356.4,463.6 Q374.5,462.5 377.8,449.4 Z" fill="#5cc878"/>
<path d="M347.2,462.0 L355.4,456.6 L356.8,467.0 Z" fill="#5cc878"/>
<circle cx="345.3" cy="440.2" r="3.95" fill="#ee8a8a"/>
<circle cx="347.6" cy="443.1" r="3.95" fill="#ee8a8a"/>
<circle cx="350.3" cy="446.0" r="3.95" fill="#ee8a8a"/>
<circle cx="352.8" cy="448.4" r="3.95" fill="#ee8a8a"/>
<circle cx="355.2" cy="450.5" r="3.95" fill="#ee8a8a"/>
<circle cx="357.5" cy="452.4" r="3.95" fill="#ee8a8a"/>
<circle cx="359.9" cy="454.0" r="3.95" fill="#ee8a8a"/>
<circle cx="362.4" cy="455.4" r="3.95" fill="#ee8a8a"/>
<circle cx="365.1" cy="456.8" r="3.95" fill="#ee8a8a"/>
<circle cx="367.8" cy="458.1" r="3.95" fill="#ee8a8a"/>
<circle cx="370.6" cy="459.2" r="3.95" fill="#ee8a8a"/>
<circle cx="373.3" cy="460.4" r="3.95" fill="#ee8a8a"/>
<circle cx="376.2" cy="461.6" r="3.95" fill="#ee8a8a"/>
<circle cx="379.1" cy="462.6" r="3.95" fill="#ee8a8a"/>
<circle cx="382.3" cy="463.9" r="3.95" fill="#ee8a8a"/>
<circle cx="345.3" cy="440.2" r="1.3" fill="#fff"/>
<circle cx="347.6" cy="443.1" r="1.3" fill="#fff"/>
<circle cx="350.3" cy="446.0" r="1.3" fill="#fff"/>
<circle cx="352.8" cy="448.4" r="1.3" fill="#fff"/>
<circle cx="355.2" cy="450.5" r="1.3" fill="#fff"/>
<circle cx="357.5" cy="452.4" r="1.3" fill="#fff"/>
<circle cx="359.9" cy="454.0" r="1.3" fill="#fff"/>
<circle cx="362.4" cy="455.4" r="1.3" fill="#fff"/>
<circle cx="365.1" cy="456.8" r="1.3" fill="#fff"/>
<circle cx="367.8" cy="458.1" r="1.3" fill="#fff"/>
<circle cx="370.6" cy="459.2" r="1.3" fill="#fff"/>
<circle cx="373.3" cy="460.4" r="1.3" fill="#fff"/>
<circle cx="376.2" cy="461.6" r="1.3" fill="#fff"/>
<circle cx="379.1" cy="462.6" r="1.3" fill="#fff"/>
<circle cx="382.3" cy="463.9" r="1.3" fill="#fff"/>
<path d="M603.9,548.4 Q610.5,531.4 627.2,529.6 L627.6,534.4 Q612.6,535.6 605.0,548.9 Z" fill="#5b98e6"/>
<path d="M633.4,531.6 L625.9,526.2 L627.9,536.3 Z" fill="#5b98e6"/>
<text x="369.8" y="481.6" font-size="10.6" font-weight="bold" fill="#ee8a8a" font-family="'Liberation Sans',sans-serif" stroke="#ee8a8a" stroke-width="0.22">Pt/Al<tspan font-size="7" dy="2">2</tspan><tspan dy="-2">O</tspan><tspan font-size="7" dy="2">3</tspan></text>
<text x="577.80" y="469.20" font-size="10.9" font-weight="bold" text-anchor="start" fill="#5cc878" font-family="'Liberation Sans',sans-serif"  stroke="#5cc878" stroke-width="0.22">Pt/MAO</text>
<path d="M424.2,477.5 L429.2,469.2 L439.2,469.2 L444.5,477.5 L439.0,485.4 L429.5,485.4 Z" fill="none" stroke="#444" stroke-width="0.9"/>
<line x1="439.10" y1="469.00" x2="443.90" y2="461.00" stroke="#444" stroke-width="0.9" />
<path d="M485.5,477.5 L490.5,469.2 L500.5,469.2 L505.8,477.5 L500.3,485.4 L490.8,485.4 Z" fill="none" stroke="#444" stroke-width="0.9"/>
<line x1="500.50" y1="469.00" x2="505.30" y2="461.00" stroke="#444" stroke-width="0.9" />
<line x1="491.71" y1="470.80" x2="499.31" y2="470.80" stroke="#666" stroke-width="0.9" />
<line x1="503.74" y1="477.68" x2="499.56" y2="483.69" stroke="#666" stroke-width="0.9" />
<line x1="491.57" y1="483.68" x2="487.54" y2="477.68" stroke="#666" stroke-width="0.9" />
<line x1="456.20" y1="477.40" x2="466.50" y2="477.40" stroke="#222" stroke-width="1.0" />
<path d="M473.8,477.4 L463.3,474.2 L465.8,477.4 L463.3,480.6 Z" fill="#111"/>
<rect x="519.2" y="476.1" width="9.9" height="1.8" fill="#111"/><rect x="523.25" y="472.2" width="1.8" height="9.6" fill="#111"/>
<text x="543.5" y="481.9" font-size="16.3" fill="#111" font-family="'Liberation Sans',sans-serif" stroke="#111" stroke-width="0.22">3H<tspan font-size="11.4" dy="2.9">2</tspan></text>
<text x="378.8" y="514.7" font-size="10.6" font-weight="bold" fill="#111" font-family="'Liberation Sans',sans-serif" stroke="#111" stroke-width="0.22">Temperature: 300 <tspan font-size="6.8" dy="-3.6">o</tspan><tspan dy="3.6">C</tspan></text>
<text x="495.1" y="514.7" font-size="10.6" font-weight="bold" fill="#111" font-family="'Liberation Sans',sans-serif" stroke="#111" stroke-width="0.22">Feed stock: Pure C<tspan font-size="7" dy="2">7</tspan><tspan dy="-2">H</tspan><tspan font-size="7" dy="2">14</tspan></text>
<text x="378.8" y="533.3" font-size="10.6" font-weight="bold" fill="#111" font-family="'Liberation Sans',sans-serif" stroke="#111" stroke-width="0.22">WHSV: 4.7 h<tspan font-size="6.8" dy="-3.6">-1</tspan></text>
<text x="492.6" y="533.3" font-size="10.6" font-weight="bold" fill="#111" font-family="'Liberation Sans',sans-serif" stroke="#111" stroke-width="0.22">Selectivity: &gt;99.99%</text>
</svg></body></html>
